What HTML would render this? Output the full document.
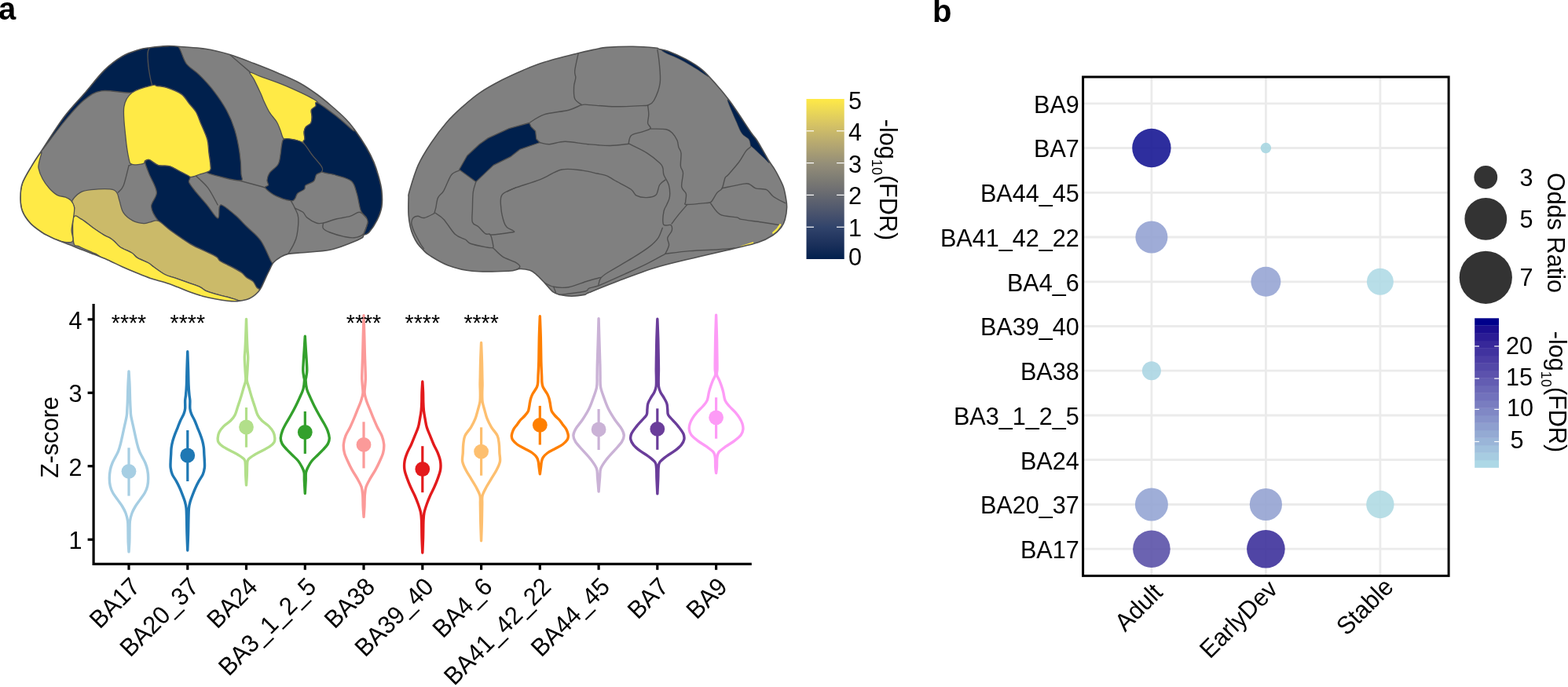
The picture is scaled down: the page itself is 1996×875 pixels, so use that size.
<!DOCTYPE html><html><head><meta charset="utf-8"><title>Figure</title><style>html,body{margin:0;padding:0;background:#fff;}svg{display:block;}</style></head><body>
<svg width="1996" height="875" viewBox="0 0 1996 875" font-family="'Liberation Sans', Arial, Helvetica, sans-serif">
<rect width="1996" height="875" fill="#fff"/>
<text x="-2" y="25" font-size="40" font-weight="bold">a</text>
<text x="1187" y="28" font-size="40" font-weight="bold">b</text>
<clipPath id="clat"><path d="M26.00,252.00 C26.00,246.00 26.17,239.95 28.60,233.10 C31.03,226.25 36.55,217.77 40.60,210.90 C44.65,204.03 46.05,202.27 52.90,191.90 C59.75,181.53 72.45,161.03 81.70,148.70 C90.95,136.37 99.83,127.83 108.40,117.90 C116.97,107.97 125.22,96.82 133.10,89.10 C140.98,81.38 148.50,75.88 155.70,71.60 C162.90,67.32 170.47,65.22 176.30,63.40 C182.13,61.58 184.53,61.50 190.70,60.70 C196.87,59.90 207.30,58.83 213.30,58.60 C219.30,58.37 218.63,58.68 226.70,59.30 C234.77,59.92 250.73,60.60 261.70,62.30 C272.67,64.00 282.22,66.42 292.50,69.50 C302.78,72.58 313.12,76.85 323.40,80.80 C333.68,84.75 344.60,89.08 354.20,93.20 C363.80,97.32 372.82,101.03 381.00,105.50 C389.18,109.97 396.47,115.08 403.30,120.00 C410.13,124.92 415.88,129.75 422.00,135.00 C428.12,140.25 435.15,146.55 440.00,151.50 C444.85,156.45 446.68,158.63 451.10,164.70 C455.52,170.77 462.38,180.95 466.50,187.90 C470.62,194.85 473.22,200.23 475.80,206.40 C478.38,212.57 480.32,218.83 482.00,224.90 C483.68,230.97 485.25,236.38 485.90,242.80 C486.55,249.22 486.88,257.12 485.90,263.40 C484.92,269.68 482.70,275.07 480.00,280.50 C477.30,285.93 472.57,292.85 469.70,296.00 C466.83,299.15 464.23,298.27 462.80,299.40 C461.37,300.53 463.95,301.08 461.10,302.80 C458.25,304.52 452.55,307.12 445.70,309.70 C438.85,312.28 430.00,316.30 420.00,318.30 C410.00,320.30 394.57,320.85 385.70,321.70 C376.83,322.55 371.65,322.40 366.80,323.40 C361.95,324.40 359.73,325.85 356.60,327.70 C353.47,329.55 350.18,331.95 348.00,334.50 C345.82,337.05 345.17,339.68 343.50,343.00 C341.83,346.32 339.85,350.50 338.00,354.40 C336.15,358.30 334.00,363.47 332.40,366.40 C330.80,369.33 330.13,370.13 328.40,372.00 C326.67,373.87 324.40,376.00 322.00,377.60 C319.60,379.20 317.33,380.60 314.00,381.60 C310.67,382.60 306.00,383.33 302.00,383.60 C298.00,383.87 294.67,383.67 290.00,383.20 C285.33,382.73 279.33,381.80 274.00,380.80 C268.67,379.80 263.33,378.67 258.00,377.20 C252.67,375.73 247.33,373.93 242.00,372.00 C236.67,370.07 231.33,367.63 226.00,365.60 C220.67,363.57 215.75,361.65 210.00,359.80 C204.25,357.95 197.63,356.58 191.50,354.50 C185.37,352.42 179.28,349.80 173.20,347.30 C167.12,344.80 161.03,342.22 155.00,339.50 C148.97,336.78 143.32,333.77 137.00,331.00 C130.68,328.23 122.32,324.97 117.10,322.90 C111.88,320.83 109.50,320.08 105.70,318.60 C101.90,317.12 98.10,315.53 94.30,314.00 C90.50,312.47 86.72,310.88 82.90,309.40 C79.08,307.92 75.22,306.72 71.40,305.10 C67.58,303.48 62.85,301.12 60.00,299.70 C57.15,298.28 57.82,299.12 54.30,296.60 C50.78,294.08 43.18,289.18 38.90,284.60 C34.62,280.02 30.75,274.53 28.60,269.10 C26.45,263.67 26.00,258.00 26.00,252.00 Z"/></clipPath>
<path d="M26.00,252.00 C26.00,246.00 26.17,239.95 28.60,233.10 C31.03,226.25 36.55,217.77 40.60,210.90 C44.65,204.03 46.05,202.27 52.90,191.90 C59.75,181.53 72.45,161.03 81.70,148.70 C90.95,136.37 99.83,127.83 108.40,117.90 C116.97,107.97 125.22,96.82 133.10,89.10 C140.98,81.38 148.50,75.88 155.70,71.60 C162.90,67.32 170.47,65.22 176.30,63.40 C182.13,61.58 184.53,61.50 190.70,60.70 C196.87,59.90 207.30,58.83 213.30,58.60 C219.30,58.37 218.63,58.68 226.70,59.30 C234.77,59.92 250.73,60.60 261.70,62.30 C272.67,64.00 282.22,66.42 292.50,69.50 C302.78,72.58 313.12,76.85 323.40,80.80 C333.68,84.75 344.60,89.08 354.20,93.20 C363.80,97.32 372.82,101.03 381.00,105.50 C389.18,109.97 396.47,115.08 403.30,120.00 C410.13,124.92 415.88,129.75 422.00,135.00 C428.12,140.25 435.15,146.55 440.00,151.50 C444.85,156.45 446.68,158.63 451.10,164.70 C455.52,170.77 462.38,180.95 466.50,187.90 C470.62,194.85 473.22,200.23 475.80,206.40 C478.38,212.57 480.32,218.83 482.00,224.90 C483.68,230.97 485.25,236.38 485.90,242.80 C486.55,249.22 486.88,257.12 485.90,263.40 C484.92,269.68 482.70,275.07 480.00,280.50 C477.30,285.93 472.57,292.85 469.70,296.00 C466.83,299.15 464.23,298.27 462.80,299.40 C461.37,300.53 463.95,301.08 461.10,302.80 C458.25,304.52 452.55,307.12 445.70,309.70 C438.85,312.28 430.00,316.30 420.00,318.30 C410.00,320.30 394.57,320.85 385.70,321.70 C376.83,322.55 371.65,322.40 366.80,323.40 C361.95,324.40 359.73,325.85 356.60,327.70 C353.47,329.55 350.18,331.95 348.00,334.50 C345.82,337.05 345.17,339.68 343.50,343.00 C341.83,346.32 339.85,350.50 338.00,354.40 C336.15,358.30 334.00,363.47 332.40,366.40 C330.80,369.33 330.13,370.13 328.40,372.00 C326.67,373.87 324.40,376.00 322.00,377.60 C319.60,379.20 317.33,380.60 314.00,381.60 C310.67,382.60 306.00,383.33 302.00,383.60 C298.00,383.87 294.67,383.67 290.00,383.20 C285.33,382.73 279.33,381.80 274.00,380.80 C268.67,379.80 263.33,378.67 258.00,377.20 C252.67,375.73 247.33,373.93 242.00,372.00 C236.67,370.07 231.33,367.63 226.00,365.60 C220.67,363.57 215.75,361.65 210.00,359.80 C204.25,357.95 197.63,356.58 191.50,354.50 C185.37,352.42 179.28,349.80 173.20,347.30 C167.12,344.80 161.03,342.22 155.00,339.50 C148.97,336.78 143.32,333.77 137.00,331.00 C130.68,328.23 122.32,324.97 117.10,322.90 C111.88,320.83 109.50,320.08 105.70,318.60 C101.90,317.12 98.10,315.53 94.30,314.00 C90.50,312.47 86.72,310.88 82.90,309.40 C79.08,307.92 75.22,306.72 71.40,305.10 C67.58,303.48 62.85,301.12 60.00,299.70 C57.15,298.28 57.82,299.12 54.30,296.60 C50.78,294.08 43.18,289.18 38.90,284.60 C34.62,280.02 30.75,274.53 28.60,269.10 C26.45,263.67 26.00,258.00 26.00,252.00 Z" fill="#808080"/>
<g clip-path="url(#clat)">
<path d="M52.90,191.90 C52.90,190.87 72.45,161.03 81.70,148.70 C90.95,136.37 99.83,127.83 108.40,117.90 C116.97,107.97 125.22,96.82 133.10,89.10 C140.98,81.38 148.50,75.88 155.70,71.60 C162.90,67.32 170.47,65.22 176.30,63.40 C182.13,61.58 188.65,57.80 190.70,60.70 C192.75,63.60 188.08,72.82 188.60,80.80 C189.12,88.78 197.22,102.42 193.80,108.60 C190.38,114.78 178.90,116.70 168.10,117.90 C157.30,119.10 139.28,114.10 129.00,115.80 C118.72,117.50 114.28,121.58 106.40,128.10 C98.52,134.62 90.62,144.27 81.70,154.90 C72.78,165.53 52.90,192.93 52.90,191.90 Z" fill="#00204D" stroke="#505050" stroke-width="1.3" stroke-linejoin="round"/>
<path d="M190.70,60.70 C194.82,57.00 207.30,58.83 213.30,58.60 C219.30,58.37 222.75,55.60 226.70,59.30 C230.65,63.00 232.53,74.82 237.00,80.80 C241.47,86.78 247.67,89.37 253.50,95.20 C259.33,101.03 266.18,108.25 272.00,115.80 C277.82,123.35 283.95,132.27 288.40,140.50 C292.85,148.73 295.95,156.28 298.70,165.20 C301.45,174.12 303.53,184.75 304.90,194.00 C306.27,203.25 306.95,214.70 306.90,220.70 C306.85,226.70 311.47,229.97 304.60,230.00 C297.73,230.03 271.98,223.00 265.70,220.90 C259.42,218.80 266.53,219.15 266.90,217.40 C267.27,215.65 268.08,214.30 267.90,210.40 C267.72,206.50 266.48,199.48 265.80,194.00 C265.12,188.52 265.52,183.68 263.80,177.50 C262.08,171.32 257.90,162.73 255.50,156.90 C253.10,151.07 251.80,146.60 249.40,142.50 C247.00,138.40 244.20,136.07 241.10,132.30 C238.00,128.53 235.60,123.33 230.80,119.90 C226.00,116.47 217.43,113.42 212.30,111.70 C207.17,109.98 203.08,110.12 200.00,109.60 C196.92,109.08 195.70,113.40 193.80,108.60 C191.90,103.80 189.12,88.78 188.60,80.80 C188.08,72.82 186.58,64.40 190.70,60.70 Z" fill="#00204D" stroke="#505050" stroke-width="1.3" stroke-linejoin="round"/>
<path d="M193.80,108.60 C199.12,107.22 196.92,109.08 200.00,109.60 C203.08,110.12 207.17,109.98 212.30,111.70 C217.43,113.42 226.00,116.47 230.80,119.90 C235.60,123.33 238.00,128.53 241.10,132.30 C244.20,136.07 247.00,138.40 249.40,142.50 C251.80,146.60 253.10,151.07 255.50,156.90 C257.90,162.73 262.08,171.32 263.80,177.50 C265.52,183.68 265.12,188.52 265.80,194.00 C266.48,199.48 267.72,206.50 267.90,210.40 C268.08,214.30 269.17,215.47 266.90,217.40 C264.63,219.33 258.50,220.67 254.30,222.00 C250.10,223.33 245.52,225.78 241.70,225.40 C237.88,225.02 235.78,221.98 231.40,219.70 C227.02,217.42 220.35,213.22 215.40,211.70 C210.45,210.18 205.88,211.93 201.70,210.60 C197.52,209.27 193.15,204.65 190.30,203.70 C187.45,202.75 185.90,204.12 184.60,204.90 C183.30,205.68 185.25,207.65 182.50,208.40 C179.75,209.15 171.18,210.43 168.10,209.40 C165.02,208.37 165.38,208.20 164.00,202.20 C162.62,196.20 160.83,184.37 159.80,173.40 C158.77,162.43 156.42,145.65 157.80,136.40 C159.18,127.15 162.10,122.53 168.10,117.90 C174.10,113.27 188.48,109.98 193.80,108.60 Z" fill="#FFEA46" stroke="#505050" stroke-width="1.3" stroke-linejoin="round"/>
<path d="M184.80,207.50 C184.22,204.55 185.58,204.93 186.50,204.30 C187.42,203.67 187.77,202.65 190.30,203.70 C192.83,204.75 197.52,209.27 201.70,210.60 C205.88,211.93 210.45,210.18 215.40,211.70 C220.35,213.22 227.02,217.42 231.40,219.70 C235.78,221.98 240.17,223.30 241.70,225.40 C243.23,227.50 239.27,229.05 240.60,232.30 C241.93,235.55 245.90,240.13 249.70,244.90 C253.50,249.67 258.83,255.38 263.40,260.90 C267.97,266.42 274.43,277.63 277.10,278.00 C279.77,278.37 278.25,265.77 279.40,263.10 C280.55,260.43 280.57,260.08 284.00,262.00 C287.43,263.92 295.05,270.22 300.00,274.60 C304.95,278.98 308.37,282.97 313.70,288.30 C319.03,293.63 326.67,298.98 332.00,306.60 C337.33,314.22 342.70,328.77 345.70,334.00 C348.70,339.23 350.28,334.00 350.00,338.00 C349.72,342.00 346.33,352.92 344.00,358.00 C341.67,363.08 338.87,367.08 336.00,368.50 C333.13,369.92 329.13,368.18 326.80,366.50 C324.47,364.82 324.13,360.55 322.00,358.40 C319.87,356.25 316.40,355.47 314.00,353.60 C311.60,351.73 310.27,349.20 307.60,347.20 C304.93,345.20 300.93,343.20 298.00,341.60 C295.07,340.00 293.07,339.20 290.00,337.60 C286.93,336.00 282.00,333.73 279.60,332.00 C277.20,330.27 278.67,329.20 275.60,327.20 C272.53,325.20 266.65,322.68 261.20,320.00 C255.75,317.32 250.15,315.43 242.90,311.10 C235.65,306.77 224.57,298.95 217.70,294.00 C210.83,289.05 205.88,286.55 201.70,281.40 C197.52,276.25 192.98,269.18 192.60,263.10 C192.22,257.02 199.83,251.75 199.40,244.90 C198.97,238.05 192.43,228.23 190.00,222.00 C187.57,215.77 185.38,210.45 184.80,207.50 Z" fill="#00204D" stroke="#505050" stroke-width="1.3" stroke-linejoin="round"/>
<path d="M92.00,255.40 C93.28,252.25 98.30,247.38 102.30,245.10 C106.30,242.82 109.72,242.40 116.00,241.70 C122.28,241.00 134.57,240.33 140.00,240.90 C145.43,241.47 146.60,242.68 148.60,245.10 C150.60,247.52 150.58,251.10 152.00,255.40 C153.42,259.70 154.25,266.62 157.10,270.90 C159.95,275.18 164.80,278.82 169.10,281.10 C173.40,283.38 179.18,284.30 182.90,284.60 C186.62,284.90 188.27,283.43 191.40,282.90 C194.53,282.37 197.32,279.55 201.70,281.40 C206.08,283.25 210.83,289.05 217.70,294.00 C224.57,298.95 235.65,306.77 242.90,311.10 C250.15,315.43 255.75,317.32 261.20,320.00 C266.65,322.68 272.53,325.20 275.60,327.20 C278.67,329.20 277.20,330.27 279.60,332.00 C282.00,333.73 286.93,336.00 290.00,337.60 C293.07,339.20 295.07,340.00 298.00,341.60 C300.93,343.20 304.93,345.20 307.60,347.20 C310.27,349.20 311.60,351.73 314.00,353.60 C316.40,355.47 319.87,356.33 322.00,358.40 C324.13,360.47 325.13,363.90 326.80,366.00 C328.47,368.10 332.13,368.50 332.00,371.00 C331.87,373.50 329.00,378.50 326.00,381.00 C323.00,383.50 317.33,385.58 314.00,386.00 C310.67,386.42 310.00,384.77 306.00,383.50 C302.00,382.23 295.33,379.92 290.00,378.40 C284.67,376.88 278.67,375.73 274.00,374.40 C269.33,373.07 265.20,371.87 262.00,370.40 C258.80,368.93 258.13,367.20 254.80,365.60 C251.47,364.00 246.80,362.53 242.00,360.80 C237.20,359.07 229.67,356.48 226.00,355.20 C222.33,353.92 222.70,354.05 220.00,353.10 C217.30,352.15 213.78,351.63 209.80,349.50 C205.82,347.37 199.62,342.75 196.10,340.30 C192.58,337.85 192.22,336.78 188.70,334.80 C185.18,332.82 178.50,330.53 175.00,328.40 C171.50,326.27 171.35,324.28 167.70,322.00 C164.05,319.72 156.77,317.13 153.10,314.70 C149.43,312.27 147.88,309.33 145.70,307.40 C143.52,305.47 142.28,304.48 140.00,303.10 C137.72,301.72 135.62,301.28 132.00,299.10 C128.38,296.92 122.97,293.28 118.30,290.00 C113.63,286.72 108.10,281.58 104.00,279.40 C99.90,277.22 95.27,279.47 93.70,276.90 C92.13,274.33 94.88,267.58 94.60,264.00 C94.32,260.42 90.72,258.55 92.00,255.40 Z" fill="#CBBA69" stroke="#505050" stroke-width="1.3" stroke-linejoin="round"/>
<path d="M93.70,276.90 C95.42,271.98 99.90,277.22 104.00,279.40 C108.10,281.58 113.63,286.72 118.30,290.00 C122.97,293.28 128.38,296.92 132.00,299.10 C135.62,301.28 137.72,301.72 140.00,303.10 C142.28,304.48 143.52,305.47 145.70,307.40 C147.88,309.33 149.43,312.27 153.10,314.70 C156.77,317.13 164.05,319.72 167.70,322.00 C171.35,324.28 171.50,326.27 175.00,328.40 C178.50,330.53 185.18,332.82 188.70,334.80 C192.22,336.78 192.58,337.85 196.10,340.30 C199.62,342.75 205.82,347.37 209.80,349.50 C213.78,351.63 217.30,352.15 220.00,353.10 C222.70,354.05 222.33,353.92 226.00,355.20 C229.67,356.48 237.20,359.07 242.00,360.80 C246.80,362.53 251.47,364.00 254.80,365.60 C258.13,367.20 258.80,368.93 262.00,370.40 C265.20,371.87 269.33,373.07 274.00,374.40 C278.67,375.73 284.67,376.88 290.00,378.40 C295.33,379.92 302.50,381.90 306.00,383.50 C309.50,385.10 313.67,387.33 311.00,388.00 C308.33,388.67 296.17,388.00 290.00,387.50 C283.83,387.00 279.33,386.08 274.00,385.00 C268.67,383.92 263.33,382.50 258.00,381.00 C252.67,379.50 247.33,377.92 242.00,376.00 C236.67,374.08 231.33,371.58 226.00,369.50 C220.67,367.42 215.75,365.42 210.00,363.50 C204.25,361.58 197.63,360.08 191.50,358.00 C185.37,355.92 179.28,353.50 173.20,351.00 C167.12,348.50 161.03,345.83 155.00,343.00 C148.97,340.17 142.17,337.08 137.00,334.00 C131.83,330.92 127.32,326.60 124.00,324.50 C120.68,322.40 120.92,323.15 117.10,321.40 C113.28,319.65 105.00,316.08 101.10,314.00 C97.20,311.92 94.93,315.08 93.70,308.90 C92.47,302.72 91.98,281.82 93.70,276.90 Z" fill="#FFEA46" stroke="#505050" stroke-width="1.3" stroke-linejoin="round"/>
<path d="M52.60,193.70 C54.17,192.83 50.58,202.27 50.00,205.70 C49.42,209.13 48.38,210.58 49.10,214.30 C49.82,218.02 52.00,223.72 54.30,228.00 C56.60,232.28 59.77,236.57 62.90,240.00 C66.03,243.43 69.68,246.75 73.10,248.60 C76.52,250.45 80.53,249.97 83.40,251.10 C86.27,252.23 88.43,253.25 90.30,255.40 C92.17,257.55 94.03,260.57 94.60,264.00 C95.17,267.43 94.28,271.15 93.70,276.00 C93.12,280.85 91.38,287.82 91.10,293.10 C90.82,298.38 95.00,305.55 92.00,307.70 C89.00,309.85 79.38,307.85 73.10,306.00 C66.82,304.15 60.00,300.17 54.30,296.60 C48.60,293.03 43.18,289.18 38.90,284.60 C34.62,280.02 30.75,274.53 28.60,269.10 C26.45,263.67 26.00,258.00 26.00,252.00 C26.00,246.00 26.17,239.95 28.60,233.10 C31.03,226.25 36.60,217.47 40.60,210.90 C44.60,204.33 51.03,194.57 52.60,193.70 Z" fill="#FFEA46" stroke="#505050" stroke-width="1.3" stroke-linejoin="round"/>
<path d="M318.20,92.20 C319.57,91.52 323.88,94.40 331.60,97.30 C339.32,100.20 352.77,104.48 364.50,109.60 C376.23,114.72 395.78,123.70 402.00,128.00 C408.22,132.30 402.73,133.40 401.80,135.40 C400.87,137.40 397.18,137.68 396.40,140.00 C395.62,142.32 397.23,146.47 397.10,149.30 C396.97,152.13 396.88,154.95 395.60,157.00 C394.32,159.05 390.82,159.80 389.40,161.60 C387.98,163.40 387.35,165.22 387.10,167.80 C386.85,170.38 388.03,174.78 387.90,177.10 C387.77,179.42 388.62,181.58 386.30,181.70 C383.98,181.82 378.12,178.57 374.00,177.80 C369.88,177.03 364.43,179.02 361.60,177.10 C358.77,175.18 358.53,169.90 357.00,166.30 C355.47,162.70 354.72,159.37 352.40,155.50 C350.08,151.63 345.93,147.73 343.10,143.10 C340.27,138.47 337.20,131.55 335.40,127.70 C333.60,123.85 334.30,124.38 332.30,120.00 C330.30,115.62 325.75,106.03 323.40,101.40 C321.05,96.77 316.83,92.88 318.20,92.20 Z" fill="#FFEA46" stroke="#505050" stroke-width="1.3" stroke-linejoin="round"/>
<path d="M404.00,130.80 C408.37,132.87 420.40,141.88 428.00,147.80 C435.60,153.72 445.75,163.48 449.60,166.30 C453.45,169.12 448.28,161.10 451.10,164.70 C453.92,168.30 462.38,180.95 466.50,187.90 C470.62,194.85 473.22,200.23 475.80,206.40 C478.38,212.57 480.32,218.83 482.00,224.90 C483.68,230.97 485.25,236.38 485.90,242.80 C486.55,249.22 486.88,257.12 485.90,263.40 C484.92,269.68 482.70,275.07 480.00,280.50 C477.30,285.93 472.57,292.85 469.70,296.00 C466.83,299.15 463.08,301.40 462.80,299.40 C462.52,297.40 467.43,287.72 468.00,284.00 C468.57,280.28 467.63,279.67 466.20,277.10 C464.77,274.53 461.40,273.73 459.40,268.60 C457.40,263.47 456.20,252.60 454.20,246.30 C452.20,240.00 451.77,234.63 447.40,230.80 C443.03,226.97 434.28,225.28 428.00,223.30 C421.72,221.32 412.78,220.70 409.70,218.90 C406.62,217.10 411.60,216.13 409.50,212.50 C407.40,208.87 400.97,202.23 397.10,197.10 C393.23,191.97 387.83,185.03 386.30,181.70 C384.77,178.37 387.77,179.42 387.90,177.10 C388.03,174.78 386.85,170.38 387.10,167.80 C387.35,165.22 387.98,163.40 389.40,161.60 C390.82,159.80 394.32,159.05 395.60,157.00 C396.88,154.95 396.97,152.13 397.10,149.30 C397.23,146.47 395.62,142.32 396.40,140.00 C397.18,137.68 400.53,136.93 401.80,135.40 C403.07,133.87 399.63,128.73 404.00,130.80 Z" fill="#00204D" stroke="#505050" stroke-width="1.3" stroke-linejoin="round"/>
<path d="M361.60,177.10 C364.17,175.93 369.88,176.90 374.00,177.80 C378.12,178.70 382.45,179.28 386.30,182.50 C390.15,185.72 393.23,192.10 397.10,197.10 C400.97,202.10 407.43,208.90 409.50,212.50 C411.57,216.10 410.62,217.07 409.50,218.70 C408.38,220.33 404.48,220.28 402.80,222.30 C401.12,224.32 401.68,228.52 399.40,230.80 C397.12,233.08 391.10,234.28 389.10,236.00 C387.10,237.72 389.12,239.38 387.40,241.10 C385.68,242.82 380.80,244.30 378.80,246.30 C376.80,248.30 376.82,251.53 375.40,253.10 C373.98,254.67 374.30,256.27 370.30,255.70 C366.30,255.13 356.83,252.42 351.40,249.70 C345.97,246.98 339.33,241.73 337.70,239.40 C336.07,237.07 341.22,237.35 341.60,235.70 C341.98,234.05 339.75,232.07 340.00,229.50 C340.25,226.93 340.78,223.63 343.10,220.30 C345.42,216.97 351.58,213.37 353.90,209.50 C356.22,205.63 356.22,201.22 357.00,197.10 C357.78,192.98 357.83,188.13 358.60,184.80 C359.37,181.47 359.03,178.27 361.60,177.10 Z" fill="#00204D" stroke="#505050" stroke-width="1.3" stroke-linejoin="round"/>
<path d="M164.00,210.90 C162.85,215.18 159.38,230.90 157.10,236.60 C154.82,242.30 151.43,243.68 150.30,245.10" fill="none" stroke="#505050" stroke-width="1.4" stroke-linejoin="round" stroke-linecap="round"/>
<path d="M168.10,209.40 C167.60,209.60 165.78,210.35 165.10,210.60 C164.42,210.85 164.18,210.85 164.00,210.90" fill="none" stroke="#505050" stroke-width="1.4" stroke-linejoin="round" stroke-linecap="round"/>
<path d="M292.50,69.50 C296.28,72.77 310.92,85.32 315.20,89.10 C319.48,92.88 317.70,91.68 318.20,92.20" fill="none" stroke="#505050" stroke-width="1.4" stroke-linejoin="round" stroke-linecap="round"/>
<path d="M304.60,230.00 C309.55,231.33 328.78,236.43 334.30,238.00 C339.82,239.57 337.13,239.17 337.70,239.40" fill="none" stroke="#505050" stroke-width="1.4" stroke-linejoin="round" stroke-linecap="round"/>
<path d="M249.70,224.30 C252.18,226.77 260.03,233.00 264.60,239.10 C269.17,245.20 275.02,257.27 277.10,260.90" fill="none" stroke="#505050" stroke-width="1.4" stroke-linejoin="round" stroke-linecap="round"/>
<path d="M370.30,255.70 C371.15,257.27 373.83,261.53 375.40,265.10 C376.97,268.67 379.27,271.38 379.70,277.10 C380.13,282.82 379.00,293.68 378.00,299.40 C377.00,305.12 375.57,307.40 373.70,311.40 C371.83,315.40 367.95,321.40 366.80,323.40" fill="none" stroke="#505050" stroke-width="1.4" stroke-linejoin="round" stroke-linecap="round"/>
<path d="M375.40,265.10 C377.12,265.97 383.13,268.30 385.70,270.30 C388.27,272.30 387.95,274.82 390.80,277.10 C393.65,279.38 399.37,282.85 402.80,284.00 C406.23,285.15 407.12,284.87 411.40,284.00 C415.68,283.13 422.78,280.23 428.50,278.80 C434.22,277.37 440.83,276.82 445.70,275.40 C450.57,273.98 454.28,270.02 457.70,270.30 C461.12,270.58 464.78,275.97 466.20,277.10" fill="none" stroke="#505050" stroke-width="1.4" stroke-linejoin="round" stroke-linecap="round"/>
<path d="M411.40,284.50 C411.40,285.55 409.97,288.88 411.40,290.80 C412.83,292.72 415.72,294.28 420.00,296.00 C424.28,297.72 431.97,299.97 437.10,301.10 C442.23,302.23 446.52,303.37 450.80,302.80 C455.08,302.23 459.93,300.83 462.80,297.70 C465.67,294.57 467.13,286.28 468.00,284.00" fill="none" stroke="#505050" stroke-width="1.4" stroke-linejoin="round" stroke-linecap="round"/>
</g>
<path d="M26.00,252.00 C26.00,246.00 26.17,239.95 28.60,233.10 C31.03,226.25 36.55,217.77 40.60,210.90 C44.65,204.03 46.05,202.27 52.90,191.90 C59.75,181.53 72.45,161.03 81.70,148.70 C90.95,136.37 99.83,127.83 108.40,117.90 C116.97,107.97 125.22,96.82 133.10,89.10 C140.98,81.38 148.50,75.88 155.70,71.60 C162.90,67.32 170.47,65.22 176.30,63.40 C182.13,61.58 184.53,61.50 190.70,60.70 C196.87,59.90 207.30,58.83 213.30,58.60 C219.30,58.37 218.63,58.68 226.70,59.30 C234.77,59.92 250.73,60.60 261.70,62.30 C272.67,64.00 282.22,66.42 292.50,69.50 C302.78,72.58 313.12,76.85 323.40,80.80 C333.68,84.75 344.60,89.08 354.20,93.20 C363.80,97.32 372.82,101.03 381.00,105.50 C389.18,109.97 396.47,115.08 403.30,120.00 C410.13,124.92 415.88,129.75 422.00,135.00 C428.12,140.25 435.15,146.55 440.00,151.50 C444.85,156.45 446.68,158.63 451.10,164.70 C455.52,170.77 462.38,180.95 466.50,187.90 C470.62,194.85 473.22,200.23 475.80,206.40 C478.38,212.57 480.32,218.83 482.00,224.90 C483.68,230.97 485.25,236.38 485.90,242.80 C486.55,249.22 486.88,257.12 485.90,263.40 C484.92,269.68 482.70,275.07 480.00,280.50 C477.30,285.93 472.57,292.85 469.70,296.00 C466.83,299.15 464.23,298.27 462.80,299.40 C461.37,300.53 463.95,301.08 461.10,302.80 C458.25,304.52 452.55,307.12 445.70,309.70 C438.85,312.28 430.00,316.30 420.00,318.30 C410.00,320.30 394.57,320.85 385.70,321.70 C376.83,322.55 371.65,322.40 366.80,323.40 C361.95,324.40 359.73,325.85 356.60,327.70 C353.47,329.55 350.18,331.95 348.00,334.50 C345.82,337.05 345.17,339.68 343.50,343.00 C341.83,346.32 339.85,350.50 338.00,354.40 C336.15,358.30 334.00,363.47 332.40,366.40 C330.80,369.33 330.13,370.13 328.40,372.00 C326.67,373.87 324.40,376.00 322.00,377.60 C319.60,379.20 317.33,380.60 314.00,381.60 C310.67,382.60 306.00,383.33 302.00,383.60 C298.00,383.87 294.67,383.67 290.00,383.20 C285.33,382.73 279.33,381.80 274.00,380.80 C268.67,379.80 263.33,378.67 258.00,377.20 C252.67,375.73 247.33,373.93 242.00,372.00 C236.67,370.07 231.33,367.63 226.00,365.60 C220.67,363.57 215.75,361.65 210.00,359.80 C204.25,357.95 197.63,356.58 191.50,354.50 C185.37,352.42 179.28,349.80 173.20,347.30 C167.12,344.80 161.03,342.22 155.00,339.50 C148.97,336.78 143.32,333.77 137.00,331.00 C130.68,328.23 122.32,324.97 117.10,322.90 C111.88,320.83 109.50,320.08 105.70,318.60 C101.90,317.12 98.10,315.53 94.30,314.00 C90.50,312.47 86.72,310.88 82.90,309.40 C79.08,307.92 75.22,306.72 71.40,305.10 C67.58,303.48 62.85,301.12 60.00,299.70 C57.15,298.28 57.82,299.12 54.30,296.60 C50.78,294.08 43.18,289.18 38.90,284.60 C34.62,280.02 30.75,274.53 28.60,269.10 C26.45,263.67 26.00,258.00 26.00,252.00 Z" fill="none" stroke="#505050" stroke-width="1.6"/>
<clipPath id="cmed"><path d="M520.10,273.90 C519.73,267.72 519.93,256.90 520.10,251.90 C520.27,246.90 519.07,250.82 521.10,243.90 C523.13,236.98 527.73,220.63 532.30,210.40 C536.87,200.17 542.47,191.57 548.50,182.50 C554.53,173.43 561.83,163.72 568.50,156.00 C575.17,148.28 581.50,142.48 588.50,136.20 C595.50,129.92 602.05,124.03 610.50,118.30 C618.95,112.57 629.95,106.62 639.20,101.80 C648.45,96.98 657.08,93.15 666.00,89.40 C674.92,85.65 681.20,82.87 692.70,79.30 C704.20,75.73 724.60,70.65 735.00,68.00 C745.40,65.35 748.88,64.67 755.10,63.40 C761.32,62.13 763.87,61.08 772.30,60.40 C780.73,59.72 795.30,59.20 805.70,59.30 C816.10,59.40 829.15,60.47 834.70,61.00 C840.25,61.53 836.35,61.80 839.00,62.50 C841.65,63.20 844.90,63.05 850.60,65.20 C856.30,67.35 866.00,71.47 873.20,75.40 C880.40,79.33 887.28,83.32 893.80,88.80 C900.32,94.28 906.65,101.93 912.30,108.30 C917.95,114.67 923.18,121.08 927.70,127.00 C932.22,132.92 934.53,136.63 939.40,143.80 C944.27,150.97 952.82,164.10 956.90,170.00 C960.98,175.90 960.33,173.53 963.90,179.20 C967.47,184.87 974.63,197.98 978.30,204.00 C981.97,210.02 983.85,212.00 985.90,215.30 C987.95,218.60 988.72,220.03 990.60,223.80 C992.48,227.57 995.58,233.25 997.20,237.90 C998.82,242.55 999.57,247.30 1000.30,251.70 C1001.03,256.10 1001.77,259.67 1001.60,264.30 C1001.43,268.93 1000.48,275.30 999.30,279.50 C998.12,283.70 997.05,286.17 994.50,289.50 C991.95,292.83 988.92,296.28 984.00,299.50 C979.08,302.72 973.53,305.90 965.00,308.80 C956.47,311.70 947.30,313.42 932.80,316.90 C918.30,320.38 894.75,325.60 878.00,329.70 C861.25,333.80 847.53,336.78 832.30,341.50 C817.07,346.22 800.32,352.82 786.60,358.00 C772.88,363.18 757.10,369.70 750.00,372.60 C742.90,375.50 747.73,374.63 744.00,375.40 C740.27,376.17 732.77,377.20 727.60,377.20 C722.43,377.20 716.97,376.32 713.00,375.40 C709.03,374.48 707.17,374.30 703.80,371.70 C700.43,369.10 696.45,363.60 692.80,359.80 C689.15,356.00 684.93,351.48 681.90,348.90 C678.87,346.32 677.95,345.37 674.60,344.30 C671.25,343.23 666.38,342.35 661.80,342.50 C657.22,342.65 657.17,344.75 647.10,345.20 C637.03,345.65 614.20,346.42 601.40,345.20 C588.60,343.98 579.43,341.25 570.30,337.90 C561.17,334.55 551.85,328.35 546.60,325.10 C541.35,321.85 541.32,320.88 538.80,318.40 C536.28,315.92 533.63,313.25 531.50,310.20 C529.37,307.15 527.53,303.63 526.00,300.10 C524.47,296.57 523.28,293.37 522.30,289.00 C521.32,284.63 520.47,280.08 520.10,273.90 Z"/></clipPath>
<path d="M520.10,273.90 C519.73,267.72 519.93,256.90 520.10,251.90 C520.27,246.90 519.07,250.82 521.10,243.90 C523.13,236.98 527.73,220.63 532.30,210.40 C536.87,200.17 542.47,191.57 548.50,182.50 C554.53,173.43 561.83,163.72 568.50,156.00 C575.17,148.28 581.50,142.48 588.50,136.20 C595.50,129.92 602.05,124.03 610.50,118.30 C618.95,112.57 629.95,106.62 639.20,101.80 C648.45,96.98 657.08,93.15 666.00,89.40 C674.92,85.65 681.20,82.87 692.70,79.30 C704.20,75.73 724.60,70.65 735.00,68.00 C745.40,65.35 748.88,64.67 755.10,63.40 C761.32,62.13 763.87,61.08 772.30,60.40 C780.73,59.72 795.30,59.20 805.70,59.30 C816.10,59.40 829.15,60.47 834.70,61.00 C840.25,61.53 836.35,61.80 839.00,62.50 C841.65,63.20 844.90,63.05 850.60,65.20 C856.30,67.35 866.00,71.47 873.20,75.40 C880.40,79.33 887.28,83.32 893.80,88.80 C900.32,94.28 906.65,101.93 912.30,108.30 C917.95,114.67 923.18,121.08 927.70,127.00 C932.22,132.92 934.53,136.63 939.40,143.80 C944.27,150.97 952.82,164.10 956.90,170.00 C960.98,175.90 960.33,173.53 963.90,179.20 C967.47,184.87 974.63,197.98 978.30,204.00 C981.97,210.02 983.85,212.00 985.90,215.30 C987.95,218.60 988.72,220.03 990.60,223.80 C992.48,227.57 995.58,233.25 997.20,237.90 C998.82,242.55 999.57,247.30 1000.30,251.70 C1001.03,256.10 1001.77,259.67 1001.60,264.30 C1001.43,268.93 1000.48,275.30 999.30,279.50 C998.12,283.70 997.05,286.17 994.50,289.50 C991.95,292.83 988.92,296.28 984.00,299.50 C979.08,302.72 973.53,305.90 965.00,308.80 C956.47,311.70 947.30,313.42 932.80,316.90 C918.30,320.38 894.75,325.60 878.00,329.70 C861.25,333.80 847.53,336.78 832.30,341.50 C817.07,346.22 800.32,352.82 786.60,358.00 C772.88,363.18 757.10,369.70 750.00,372.60 C742.90,375.50 747.73,374.63 744.00,375.40 C740.27,376.17 732.77,377.20 727.60,377.20 C722.43,377.20 716.97,376.32 713.00,375.40 C709.03,374.48 707.17,374.30 703.80,371.70 C700.43,369.10 696.45,363.60 692.80,359.80 C689.15,356.00 684.93,351.48 681.90,348.90 C678.87,346.32 677.95,345.37 674.60,344.30 C671.25,343.23 666.38,342.35 661.80,342.50 C657.22,342.65 657.17,344.75 647.10,345.20 C637.03,345.65 614.20,346.42 601.40,345.20 C588.60,343.98 579.43,341.25 570.30,337.90 C561.17,334.55 551.85,328.35 546.60,325.10 C541.35,321.85 541.32,320.88 538.80,318.40 C536.28,315.92 533.63,313.25 531.50,310.20 C529.37,307.15 527.53,303.63 526.00,300.10 C524.47,296.57 523.28,293.37 522.30,289.00 C521.32,284.63 520.47,280.08 520.10,273.90 Z" fill="#808080"/>
<g clip-path="url(#cmed)">
<path d="M584.6,216.0 L594.7,198.2 L610.3,183.7 L621.4,175.9 L648.1,163.6 L673.8,156.5 L676.0,161.4 L681.6,167.0 L682.7,177.0 L687.1,181.5 L661.5,190.4 L650.4,199.3 L628.1,210.4 L605.8,231.6 Z" fill="#00204D" stroke="#505050" stroke-width="1.3" stroke-linejoin="round"/>
<path d="M838.00,59.50 C839.00,58.78 847.00,60.83 852.00,62.50 C857.00,64.17 862.67,66.75 868.00,69.50 C873.33,72.25 879.33,75.67 884.00,79.00 C888.67,82.33 893.00,86.42 896.00,89.50 C899.00,92.58 901.92,96.67 902.00,97.50 C902.08,98.33 899.08,96.12 896.50,94.50 C893.92,92.88 890.42,90.27 886.50,87.80 C882.58,85.33 877.25,82.08 873.00,79.70 C868.75,77.32 865.50,75.65 861.00,73.50 C856.50,71.35 849.83,69.13 846.00,66.80 C842.17,64.47 837.00,60.22 838.00,59.50 Z" fill="#00204D" stroke="#505050" stroke-width="0.6" stroke-linejoin="round"/>
<path d="M926.00,126.90 C926.37,125.05 934.25,136.42 939.40,143.60 C944.55,150.78 952.82,164.07 956.90,170.00 C960.98,175.93 960.23,173.12 963.90,179.20 C967.57,185.28 977.42,202.78 978.90,206.50 C980.38,210.22 976.42,204.75 972.80,201.50 C969.18,198.25 960.05,189.53 957.20,187.00 C954.35,184.47 956.37,187.88 955.70,186.30 C955.03,184.72 955.08,180.22 953.20,177.50 C951.32,174.78 947.07,173.80 944.40,170.00 C941.73,166.20 940.27,161.88 937.20,154.70 C934.13,147.52 925.63,128.75 926.00,126.90 Z" fill="#00204D" stroke="#505050" stroke-width="0.6" stroke-linejoin="round"/>
<path d="M736.20,67.80 C735.45,71.52 732.27,84.90 731.70,90.10 C731.13,95.30 732.98,95.65 732.80,99.00 C732.62,102.35 730.78,105.73 730.60,110.20 C730.42,114.67 730.03,121.90 731.70,125.80 C733.37,129.70 739.12,132.30 740.60,133.60" fill="none" stroke="#505050" stroke-width="1.4" stroke-linejoin="round" stroke-linecap="round"/>
<path d="M674.90,155.80 C677.87,154.13 684.53,148.40 692.70,145.80 C700.87,143.20 715.92,142.23 723.90,140.20 C731.88,138.17 736.25,134.70 740.60,133.60 C744.95,132.50 742.87,133.23 750.00,133.60 C757.13,133.97 770.97,135.70 783.40,135.80 C795.83,135.90 817.73,134.47 824.60,134.20" fill="none" stroke="#505050" stroke-width="1.4" stroke-linejoin="round" stroke-linecap="round"/>
<path d="M836.90,63.40 C837.27,66.00 838.55,71.95 839.10,79.00 C839.65,86.05 841.32,97.53 840.20,105.70 C839.08,113.87 835.00,123.25 832.40,128.00 C829.80,132.75 825.90,133.17 824.60,134.20" fill="none" stroke="#505050" stroke-width="1.4" stroke-linejoin="round" stroke-linecap="round"/>
<path d="M824.60,134.20 C824.80,136.13 825.80,142.00 825.80,145.80 C825.80,149.60 824.23,154.03 824.60,157.00 C824.97,159.97 829.30,161.75 828.00,163.60 C826.70,165.45 820.88,166.62 816.80,168.10 C812.72,169.58 806.28,169.98 803.50,172.50 C800.72,175.02 800.67,181.42 800.10,183.20" fill="none" stroke="#505050" stroke-width="1.4" stroke-linejoin="round" stroke-linecap="round"/>
<path d="M687.10,181.50 C689.15,181.87 694.02,183.90 699.40,183.70 C704.78,183.50 711.23,180.30 719.40,180.30 C727.57,180.30 738.85,182.83 748.40,183.70 C757.95,184.57 768.08,185.58 776.70,185.50 C785.32,185.42 796.20,183.58 800.10,183.20" fill="none" stroke="#505050" stroke-width="1.4" stroke-linejoin="round" stroke-linecap="round"/>
<path d="M800.80,183.20 C804.58,185.13 816.97,190.72 823.50,194.80 C830.03,198.88 836.62,204.50 840.00,207.70 C843.38,210.90 842.97,211.48 843.80,214.00 C844.63,216.52 843.75,219.23 845.00,222.80 C846.25,226.37 850.05,230.82 851.30,235.40 C852.55,239.98 852.92,246.12 852.50,250.30 C852.08,254.48 850.05,257.38 848.80,260.50 C847.55,263.62 845.77,264.93 845.00,269.00 C844.23,273.07 843.58,281.90 844.20,284.90 C844.82,287.90 847.03,286.70 848.70,287.00 C850.37,287.30 853.13,285.53 854.20,286.70 C855.27,287.87 855.85,291.27 855.10,294.00 C854.35,296.73 850.30,300.05 849.70,303.10 C849.10,306.15 851.97,308.93 851.50,312.30 C851.03,315.67 847.67,321.47 846.90,323.30" fill="none" stroke="#505050" stroke-width="1.4" stroke-linejoin="round" stroke-linecap="round"/>
<path d="M645.90,243.90 C647.63,243.10 649.23,241.70 656.30,239.10 C663.37,236.50 678.52,232.15 688.30,228.30 C698.08,224.45 706.10,217.87 715.00,216.00 C723.90,214.13 734.20,216.27 741.70,217.10 C749.20,217.93 754.90,219.88 760.00,221.00 C765.10,222.12 768.48,222.30 772.30,223.80 C776.12,225.30 777.78,227.13 782.90,230.00 C788.02,232.87 798.43,237.80 803.00,241.00 C807.57,244.20 806.95,247.43 810.30,249.20 C813.65,250.97 818.98,251.75 823.10,251.60 C827.22,251.45 832.25,250.98 835.00,248.30 C837.75,245.62 837.62,238.70 839.60,235.50 C841.58,232.30 845.68,230.17 846.90,229.10" fill="none" stroke="#505050" stroke-width="1.4" stroke-linejoin="round" stroke-linecap="round"/>
<path d="M656.30,239.10 C653.40,240.63 641.95,243.72 638.90,248.30 C635.85,252.88 637.55,260.82 638.00,266.60 C638.45,272.38 640.38,279.20 641.60,283.00 C642.82,286.80 643.32,287.57 645.30,289.40 C647.28,291.23 652.28,292.93 653.50,294.00 C654.72,295.07 655.80,295.10 652.60,295.80 C649.40,296.50 639.02,297.65 634.30,298.20 C629.58,298.75 625.97,298.95 624.30,299.10" fill="none" stroke="#505050" stroke-width="1.4" stroke-linejoin="round" stroke-linecap="round"/>
<path d="M828.00,164.10 C831.33,164.20 843.28,163.72 848.00,164.70 C852.72,165.68 853.97,167.65 856.30,170.00 C858.63,172.35 860.73,175.87 862.00,178.80 C863.27,181.73 863.07,184.88 863.90,187.60 C864.73,190.32 866.58,191.12 867.00,195.10 C867.42,199.08 865.98,207.30 866.40,211.50 C866.82,215.70 869.28,215.90 869.50,220.30 C869.72,224.70 867.07,233.50 867.70,237.90 C868.33,242.30 872.47,243.55 873.30,246.70 C874.13,249.85 872.48,254.50 872.70,256.80 C872.92,259.10 869.37,260.30 874.60,260.50 C879.83,260.70 899.18,258.42 904.10,258.00" fill="none" stroke="#505050" stroke-width="1.4" stroke-linejoin="round" stroke-linecap="round"/>
<path d="M955.70,187.00 C954.65,187.93 951.92,189.35 949.40,192.60 C946.88,195.85 944.37,201.47 940.60,206.50 C936.83,211.53 929.73,219.45 926.80,222.80 C923.87,226.15 924.27,223.77 923.00,226.60 C921.73,229.43 920.88,236.67 919.20,239.80 C917.52,242.93 915.00,242.78 912.90,245.40 C910.80,248.02 908.07,253.40 906.60,255.50 C905.13,257.60 904.52,257.58 904.10,258.00" fill="none" stroke="#505050" stroke-width="1.4" stroke-linejoin="round" stroke-linecap="round"/>
<path d="M919.20,239.80 C923.82,238.85 941.03,234.93 946.90,234.10 C952.77,233.27 951.88,233.85 954.40,234.80 C956.92,235.75 958.43,238.65 962.00,239.80 C965.57,240.95 972.03,239.92 975.80,241.70 C979.57,243.48 980.62,247.68 984.60,250.50 C988.58,253.32 997.18,257.25 999.70,258.60" fill="none" stroke="#505050" stroke-width="1.4" stroke-linejoin="round" stroke-linecap="round"/>
<path d="M904.80,259.30 C906.78,261.60 911.15,270.17 916.70,273.10 C922.25,276.03 933.58,275.85 938.10,276.90 C942.62,277.95 938.58,278.38 943.80,279.40 C949.02,280.42 961.17,281.78 969.40,283.00 C977.63,284.22 989.23,286.08 993.20,286.70" fill="none" stroke="#505050" stroke-width="1.4" stroke-linejoin="round" stroke-linecap="round"/>
<path d="M874.30,261.10 C872.48,263.23 866.60,269.93 863.40,273.90 C860.20,277.87 856.48,283.07 855.10,284.90" fill="none" stroke="#505050" stroke-width="1.4" stroke-linejoin="round" stroke-linecap="round"/>
<path d="M846.90,323.30 C852.08,322.68 866.72,320.52 878.00,319.60 C889.28,318.68 905.15,318.40 914.60,317.80 C924.05,317.20 931.35,316.30 934.70,316.00" fill="none" stroke="#505050" stroke-width="1.4" stroke-linejoin="round" stroke-linecap="round"/>
<path d="M846.90,323.30 C842.93,325.43 831.63,331.83 823.10,336.10 C814.57,340.37 805.75,344.33 795.70,348.90 C785.65,353.47 770.42,360.47 762.80,363.50 C755.18,366.53 753.13,365.82 750.00,367.10 C746.87,368.38 750.17,369.82 744.00,371.20 C737.83,372.58 718.17,374.70 713.00,375.40" fill="none" stroke="#505050" stroke-width="1.4" stroke-linejoin="round" stroke-linecap="round"/>
<path d="M843.30,290.30 C842.38,292.43 840.55,299.13 837.80,303.10 C835.05,307.07 832.28,309.83 826.80,314.10 C821.32,318.37 813.73,323.22 804.90,328.70 C796.07,334.18 780.52,342.73 773.80,347.00 C767.08,351.27 766.58,351.70 764.60,354.30 C762.62,356.90 762.35,361.22 761.90,362.60" fill="none" stroke="#505050" stroke-width="1.4" stroke-linejoin="round" stroke-linecap="round"/>
<path d="M692.80,359.80 C694.78,360.72 699.52,364.32 704.70,365.30 C709.88,366.28 716.73,366.92 723.90,365.70 C731.07,364.48 740.92,360.05 747.70,358.00 C754.48,355.95 761.78,354.17 764.60,353.40" fill="none" stroke="#505050" stroke-width="1.4" stroke-linejoin="round" stroke-linecap="round"/>
<path d="M704.70,365.30 C705.17,366.52 707.03,371.38 707.50,372.60" fill="none" stroke="#505050" stroke-width="1.4" stroke-linejoin="round" stroke-linecap="round"/>
<path d="M605.80,231.60 C605.22,233.77 603.03,238.77 602.30,244.60 C601.57,250.43 601.55,260.20 601.40,266.60 C601.25,273.00 600.18,279.35 601.40,283.00 C602.62,286.65 605.95,286.05 608.70,288.50 C611.45,290.95 615.30,295.93 617.90,297.70 C620.50,299.47 622.63,296.52 624.30,299.10 C625.97,301.68 627.45,310.45 627.90,313.20 C628.35,315.95 627.15,315.20 627.00,315.60" fill="none" stroke="#505050" stroke-width="1.4" stroke-linejoin="round" stroke-linecap="round"/>
<path d="M584.60,217.10 C582.93,218.03 577.88,218.42 574.60,222.70 C571.32,226.98 567.75,237.93 564.90,242.80 C562.05,247.67 559.18,248.25 557.50,251.90 C555.82,255.55 555.55,261.50 554.80,264.70 C554.05,267.90 553.30,270.03 553.00,271.10" fill="none" stroke="#505050" stroke-width="1.4" stroke-linejoin="round" stroke-linecap="round"/>
<path d="M553.00,271.70 C550.87,272.67 543.72,276.90 540.20,277.50 C536.68,278.10 534.27,275.30 531.90,275.30 C529.53,275.30 527.35,276.22 526.00,277.50 C524.65,278.78 524.03,281.25 523.80,283.00 C523.57,284.75 524.02,285.92 524.60,288.00 C525.18,290.08 526.10,292.80 527.30,295.50 C528.50,298.20 530.38,301.53 531.80,304.20 C533.22,306.87 534.52,309.40 535.80,311.50 C537.08,313.60 538.88,315.92 539.50,316.80" fill="none" stroke="#505050" stroke-width="1.4" stroke-linejoin="round" stroke-linecap="round"/>
<path d="M554.20,271.30 C555.98,272.65 560.68,274.85 564.90,279.40 C569.12,283.95 574.93,294.33 579.50,298.60 C584.07,302.87 588.95,303.02 592.30,305.00 C595.65,306.98 595.03,308.83 599.60,310.50 C604.17,312.17 615.13,314.15 619.70,315.00 C624.27,315.85 625.78,315.50 627.00,315.60" fill="none" stroke="#505050" stroke-width="1.4" stroke-linejoin="round" stroke-linecap="round"/>
<path d="M627.90,315.90 C629.88,317.73 635.07,323.85 639.80,326.90 C644.53,329.95 652.63,332.07 656.30,334.20 C659.97,336.33 661.80,338.02 661.80,339.70 C661.80,341.38 657.22,343.53 656.30,344.30" fill="none" stroke="#505050" stroke-width="1.4" stroke-linejoin="round" stroke-linecap="round"/>
<path d="M984.3,296.5 Q990,292.5 993.2,286.3" fill="none" stroke="#FFEA46" stroke-width="2.4" stroke-linecap="round"/>
<path d="M943.5,314 L958.5,309.2" stroke="#FFEA46" stroke-width="1.8" stroke-linecap="round"/>
</g>
<path d="M520.10,273.90 C519.73,267.72 519.93,256.90 520.10,251.90 C520.27,246.90 519.07,250.82 521.10,243.90 C523.13,236.98 527.73,220.63 532.30,210.40 C536.87,200.17 542.47,191.57 548.50,182.50 C554.53,173.43 561.83,163.72 568.50,156.00 C575.17,148.28 581.50,142.48 588.50,136.20 C595.50,129.92 602.05,124.03 610.50,118.30 C618.95,112.57 629.95,106.62 639.20,101.80 C648.45,96.98 657.08,93.15 666.00,89.40 C674.92,85.65 681.20,82.87 692.70,79.30 C704.20,75.73 724.60,70.65 735.00,68.00 C745.40,65.35 748.88,64.67 755.10,63.40 C761.32,62.13 763.87,61.08 772.30,60.40 C780.73,59.72 795.30,59.20 805.70,59.30 C816.10,59.40 829.15,60.47 834.70,61.00 C840.25,61.53 836.35,61.80 839.00,62.50 C841.65,63.20 844.90,63.05 850.60,65.20 C856.30,67.35 866.00,71.47 873.20,75.40 C880.40,79.33 887.28,83.32 893.80,88.80 C900.32,94.28 906.65,101.93 912.30,108.30 C917.95,114.67 923.18,121.08 927.70,127.00 C932.22,132.92 934.53,136.63 939.40,143.80 C944.27,150.97 952.82,164.10 956.90,170.00 C960.98,175.90 960.33,173.53 963.90,179.20 C967.47,184.87 974.63,197.98 978.30,204.00 C981.97,210.02 983.85,212.00 985.90,215.30 C987.95,218.60 988.72,220.03 990.60,223.80 C992.48,227.57 995.58,233.25 997.20,237.90 C998.82,242.55 999.57,247.30 1000.30,251.70 C1001.03,256.10 1001.77,259.67 1001.60,264.30 C1001.43,268.93 1000.48,275.30 999.30,279.50 C998.12,283.70 997.05,286.17 994.50,289.50 C991.95,292.83 988.92,296.28 984.00,299.50 C979.08,302.72 973.53,305.90 965.00,308.80 C956.47,311.70 947.30,313.42 932.80,316.90 C918.30,320.38 894.75,325.60 878.00,329.70 C861.25,333.80 847.53,336.78 832.30,341.50 C817.07,346.22 800.32,352.82 786.60,358.00 C772.88,363.18 757.10,369.70 750.00,372.60 C742.90,375.50 747.73,374.63 744.00,375.40 C740.27,376.17 732.77,377.20 727.60,377.20 C722.43,377.20 716.97,376.32 713.00,375.40 C709.03,374.48 707.17,374.30 703.80,371.70 C700.43,369.10 696.45,363.60 692.80,359.80 C689.15,356.00 684.93,351.48 681.90,348.90 C678.87,346.32 677.95,345.37 674.60,344.30 C671.25,343.23 666.38,342.35 661.80,342.50 C657.22,342.65 657.17,344.75 647.10,345.20 C637.03,345.65 614.20,346.42 601.40,345.20 C588.60,343.98 579.43,341.25 570.30,337.90 C561.17,334.55 551.85,328.35 546.60,325.10 C541.35,321.85 541.32,320.88 538.80,318.40 C536.28,315.92 533.63,313.25 531.50,310.20 C529.37,307.15 527.53,303.63 526.00,300.10 C524.47,296.57 523.28,293.37 522.30,289.00 C521.32,284.63 520.47,280.08 520.10,273.90 Z" fill="none" stroke="#505050" stroke-width="1.6"/>
<rect x="1026.5" y="126" width="48.2" height="204" fill="url(#gc)"/>
<text transform="translate(1080.0,338.3) scale(1,1.04)" font-size="30.6">0</text>
<line x1="1026.5" y1="289.2" x2="1036" y2="289.2" stroke="#fff" stroke-width="1.2"/>
<line x1="1065" y1="289.2" x2="1074.7" y2="289.2" stroke="#fff" stroke-width="1.2"/>
<text transform="translate(1080.0,301.1) scale(1,1.04)" font-size="30.6">1</text>
<line x1="1026.5" y1="248.4" x2="1036" y2="248.4" stroke="#fff" stroke-width="1.2"/>
<line x1="1065" y1="248.4" x2="1074.7" y2="248.4" stroke="#fff" stroke-width="1.2"/>
<text transform="translate(1080.0,260.3) scale(1,1.04)" font-size="30.6">2</text>
<line x1="1026.5" y1="207.6" x2="1036" y2="207.6" stroke="#fff" stroke-width="1.2"/>
<line x1="1065" y1="207.6" x2="1074.7" y2="207.6" stroke="#fff" stroke-width="1.2"/>
<text transform="translate(1080.0,219.5) scale(1,1.04)" font-size="30.6">3</text>
<line x1="1026.5" y1="166.8" x2="1036" y2="166.8" stroke="#fff" stroke-width="1.2"/>
<line x1="1065" y1="166.8" x2="1074.7" y2="166.8" stroke="#fff" stroke-width="1.2"/>
<text transform="translate(1080.0,178.7) scale(1,1.04)" font-size="30.6">4</text>
<text transform="translate(1080.0,139.3) scale(1,1.04)" font-size="30.6">5</text>
<text transform="translate(1120.0,229.0) rotate(90) scale(1,1.04)" font-size="30.6" text-anchor="middle">-log<tspan font-size="18" dy="9.5">10</tspan><tspan dy="-9.5">(FDR)</tspan></text>
<g id="violins">
<path d="M164.00,472.90 C164.17,475.75 164.73,483.82 165.00,490.00 C165.27,496.18 165.40,504.67 165.60,510.00 C165.80,515.33 166.00,518.67 166.20,522.00 C166.40,525.33 166.08,525.80 166.80,530.00 C167.52,534.20 169.25,541.48 170.50,547.20 C171.75,552.92 173.15,559.73 174.30,564.30 C175.45,568.87 176.32,571.73 177.40,574.60 C178.48,577.47 179.52,578.93 180.80,581.50 C182.08,584.07 183.95,587.15 185.10,590.00 C186.25,592.85 187.10,595.45 187.70,598.60 C188.30,601.75 188.70,605.47 188.70,608.90 C188.70,612.33 188.43,616.05 187.70,619.20 C186.97,622.35 185.87,624.93 184.30,627.80 C182.73,630.67 180.30,633.53 178.30,636.40 C176.30,639.27 174.02,642.15 172.30,645.00 C170.58,647.85 169.15,650.37 168.00,653.50 C166.85,656.63 165.90,660.08 165.40,663.80 C164.90,667.52 165.10,671.43 165.00,675.80 C164.90,680.17 164.97,685.48 164.80,690.00 C164.63,694.52 164.13,700.75 164.00,702.90 L164.00,702.90 C163.87,700.75 163.37,694.52 163.20,690.00 C163.03,685.48 163.10,680.17 163.00,675.80 C162.90,671.43 163.10,667.52 162.60,663.80 C162.10,660.08 161.15,656.63 160.00,653.50 C158.85,650.37 157.42,647.85 155.70,645.00 C153.98,642.15 151.70,639.27 149.70,636.40 C147.70,633.53 145.27,630.67 143.70,627.80 C142.13,624.93 141.03,622.35 140.30,619.20 C139.57,616.05 139.30,612.33 139.30,608.90 C139.30,605.47 139.70,601.75 140.30,598.60 C140.90,595.45 141.75,592.85 142.90,590.00 C144.05,587.15 145.92,584.07 147.20,581.50 C148.48,578.93 149.52,577.47 150.60,574.60 C151.68,571.73 152.55,568.87 153.70,564.30 C154.85,559.73 156.25,552.92 157.50,547.20 C158.75,541.48 160.48,534.20 161.20,530.00 C161.92,525.80 161.60,525.33 161.80,522.00 C162.00,518.67 162.20,515.33 162.40,510.00 C162.60,504.67 162.73,496.18 163.00,490.00 C163.27,483.82 163.83,475.75 164.00,472.90 Z" fill="none" stroke="#A6CEE3" stroke-width="3.4" stroke-linejoin="round"/>
<line x1="164.0" y1="570.3" x2="164.0" y2="631.6" stroke="#A6CEE3" stroke-width="3.2"/>
<circle cx="164.0" cy="600.3" r="9.4" fill="#A6CEE3"/>
<path d="M238.76,447.80 C238.89,451.50 239.34,462.97 239.56,470.00 C239.78,477.03 239.83,484.50 240.06,490.00 C240.29,495.50 240.66,499.67 240.96,503.00 C241.26,506.33 241.71,507.12 241.86,510.00 C242.01,512.88 241.58,517.43 241.86,520.30 C242.14,523.17 242.56,524.63 243.56,527.20 C244.56,529.77 246.58,532.85 247.86,535.70 C249.14,538.55 250.11,541.43 251.26,544.30 C252.41,547.17 253.69,550.03 254.76,552.90 C255.83,555.77 256.89,558.65 257.66,561.50 C258.43,564.35 258.99,567.15 259.36,570.00 C259.73,572.85 259.69,575.73 259.86,578.60 C260.03,581.47 260.28,584.33 260.36,587.20 C260.44,590.07 260.73,592.93 260.36,595.80 C259.99,598.67 259.38,601.55 258.16,604.40 C256.94,607.25 254.63,610.05 253.06,612.90 C251.49,615.75 250.06,618.63 248.76,621.50 C247.46,624.37 246.36,627.23 245.26,630.10 C244.16,632.97 242.96,635.85 242.16,638.70 C241.36,641.55 240.83,643.65 240.46,647.20 C240.09,650.75 240.11,654.53 239.96,660.00 C239.81,665.47 239.76,673.17 239.56,680.00 C239.36,686.83 238.89,697.50 238.76,701.00 L238.76,701.00 C238.63,697.50 238.16,686.83 237.96,680.00 C237.76,673.17 237.71,665.47 237.56,660.00 C237.41,654.53 237.43,650.75 237.06,647.20 C236.69,643.65 236.16,641.55 235.36,638.70 C234.56,635.85 233.36,632.97 232.26,630.10 C231.16,627.23 230.06,624.37 228.76,621.50 C227.46,618.63 226.03,615.75 224.46,612.90 C222.89,610.05 220.58,607.25 219.36,604.40 C218.14,601.55 217.53,598.67 217.16,595.80 C216.79,592.93 217.08,590.07 217.16,587.20 C217.24,584.33 217.49,581.47 217.66,578.60 C217.83,575.73 217.79,572.85 218.16,570.00 C218.53,567.15 219.09,564.35 219.86,561.50 C220.63,558.65 221.69,555.77 222.76,552.90 C223.83,550.03 225.11,547.17 226.26,544.30 C227.41,541.43 228.38,538.55 229.66,535.70 C230.94,532.85 232.96,529.77 233.96,527.20 C234.96,524.63 235.38,523.17 235.66,520.30 C235.94,517.43 235.51,512.88 235.66,510.00 C235.81,507.12 236.26,506.33 236.56,503.00 C236.86,499.67 237.23,495.50 237.46,490.00 C237.69,484.50 237.74,477.03 237.96,470.00 C238.18,462.97 238.63,451.50 238.76,447.80 Z" fill="none" stroke="#1F78B4" stroke-width="3.4" stroke-linejoin="round"/>
<line x1="238.8" y1="548.0" x2="238.8" y2="613.0" stroke="#1F78B4" stroke-width="3.2"/>
<circle cx="238.8" cy="580.0" r="9.4" fill="#1F78B4"/>
<path d="M313.52,406.40 C313.65,410.33 314.07,423.57 314.32,430.00 C314.57,436.43 314.79,440.83 315.02,445.00 C315.25,449.17 315.67,451.67 315.72,455.00 C315.77,458.33 315.49,461.67 315.32,465.00 C315.15,468.33 314.89,471.73 314.72,475.00 C314.55,478.27 313.95,481.47 314.32,484.60 C314.69,487.73 315.87,490.13 316.92,493.80 C317.97,497.47 319.40,502.65 320.62,506.60 C321.84,510.55 323.00,513.85 324.22,517.50 C325.44,521.15 326.39,525.45 327.92,528.50 C329.45,531.55 330.99,533.37 333.42,535.80 C335.85,538.23 340.09,540.65 342.52,543.10 C344.95,545.55 346.80,548.05 348.02,550.50 C349.24,552.95 349.67,555.67 349.82,557.80 C349.97,559.93 349.99,561.48 348.92,563.30 C347.85,565.12 346.00,566.88 343.42,568.70 C340.84,570.52 336.77,572.37 333.42,574.20 C330.07,576.03 326.22,577.87 323.32,579.70 C320.42,581.53 317.45,583.37 316.02,585.20 C314.59,587.03 315.00,587.40 314.72,590.70 C314.44,594.00 314.52,600.47 314.32,605.00 C314.12,609.53 313.65,615.75 313.52,617.90 L313.52,617.90 C313.39,615.75 312.92,609.53 312.72,605.00 C312.52,600.47 312.60,594.00 312.32,590.70 C312.04,587.40 312.45,587.03 311.02,585.20 C309.59,583.37 306.62,581.53 303.72,579.70 C300.82,577.87 296.97,576.03 293.62,574.20 C290.27,572.37 286.20,570.52 283.62,568.70 C281.04,566.88 279.19,565.12 278.12,563.30 C277.05,561.48 277.07,559.93 277.22,557.80 C277.37,555.67 277.80,552.95 279.02,550.50 C280.24,548.05 282.09,545.55 284.52,543.10 C286.95,540.65 291.19,538.23 293.62,535.80 C296.05,533.37 297.59,531.55 299.12,528.50 C300.65,525.45 301.60,521.15 302.82,517.50 C304.04,513.85 305.20,510.55 306.42,506.60 C307.64,502.65 309.07,497.47 310.12,493.80 C311.17,490.13 312.35,487.73 312.72,484.60 C313.09,481.47 312.49,478.27 312.32,475.00 C312.15,471.73 311.89,468.33 311.72,465.00 C311.55,461.67 311.27,458.33 311.32,455.00 C311.37,451.67 311.79,449.17 312.02,445.00 C312.25,440.83 312.47,436.43 312.72,430.00 C312.97,423.57 313.39,410.33 313.52,406.40 Z" fill="none" stroke="#B2DF8A" stroke-width="3.4" stroke-linejoin="round"/>
<line x1="313.5" y1="519.0" x2="313.5" y2="569.7" stroke="#B2DF8A" stroke-width="3.2"/>
<circle cx="313.5" cy="544.0" r="9.4" fill="#B2DF8A"/>
<path d="M388.28,428.30 C388.45,431.08 388.95,439.72 389.28,445.00 C389.61,450.28 390.03,455.50 390.28,460.00 C390.53,464.50 390.86,468.67 390.78,472.00 C390.70,475.33 390.06,477.90 389.78,480.00 C389.50,482.10 388.95,482.00 389.08,484.60 C389.21,487.20 389.56,491.93 390.58,495.60 C391.60,499.27 393.56,502.95 395.18,506.60 C396.80,510.25 398.45,513.85 400.28,517.50 C402.11,521.15 404.13,524.83 406.18,528.50 C408.23,532.17 410.76,536.15 412.58,539.50 C414.40,542.85 415.96,545.55 417.08,548.60 C418.20,551.65 419.21,555.05 419.28,557.80 C419.35,560.55 418.76,562.67 417.48,565.10 C416.20,567.53 413.78,569.97 411.58,572.40 C409.38,574.83 406.71,577.27 404.28,579.70 C401.85,582.13 398.95,584.57 396.98,587.00 C395.01,589.43 393.73,591.87 392.48,594.30 C391.23,596.73 390.03,598.65 389.48,601.60 C388.93,604.55 389.38,607.52 389.18,612.00 C388.98,616.48 388.43,625.75 388.28,628.50 L388.28,628.50 C388.13,625.75 387.58,616.48 387.38,612.00 C387.18,607.52 387.63,604.55 387.08,601.60 C386.53,598.65 385.33,596.73 384.08,594.30 C382.83,591.87 381.55,589.43 379.58,587.00 C377.61,584.57 374.71,582.13 372.28,579.70 C369.85,577.27 367.18,574.83 364.98,572.40 C362.78,569.97 360.36,567.53 359.08,565.10 C357.80,562.67 357.21,560.55 357.28,557.80 C357.35,555.05 358.36,551.65 359.48,548.60 C360.60,545.55 362.16,542.85 363.98,539.50 C365.80,536.15 368.33,532.17 370.38,528.50 C372.43,524.83 374.45,521.15 376.28,517.50 C378.11,513.85 379.76,510.25 381.38,506.60 C383.00,502.95 384.96,499.27 385.98,495.60 C387.00,491.93 387.35,487.20 387.48,484.60 C387.61,482.00 387.06,482.10 386.78,480.00 C386.50,477.90 385.86,475.33 385.78,472.00 C385.70,468.67 386.03,464.50 386.28,460.00 C386.53,455.50 386.95,450.28 387.28,445.00 C387.61,439.72 388.11,431.08 388.28,428.30 Z" fill="none" stroke="#33A02C" stroke-width="3.4" stroke-linejoin="round"/>
<line x1="388.3" y1="524.0" x2="388.3" y2="577.9" stroke="#33A02C" stroke-width="3.2"/>
<circle cx="388.3" cy="550.5" r="9.4" fill="#33A02C"/>
<path d="M463.04,401.80 C463.17,406.50 463.62,421.97 463.84,430.00 C464.06,438.03 464.14,443.33 464.34,450.00 C464.54,456.67 464.87,464.67 465.04,470.00 C465.21,475.33 465.37,478.67 465.34,482.00 C465.31,485.33 465.04,486.85 464.84,490.00 C464.64,493.15 463.79,497.28 464.14,500.90 C464.49,504.52 465.74,508.08 466.94,511.70 C468.14,515.32 469.89,518.98 471.34,522.60 C472.79,526.22 474.12,529.78 475.64,533.40 C477.16,537.02 478.69,540.68 480.44,544.30 C482.19,547.92 484.76,551.48 486.14,555.10 C487.52,558.72 488.49,562.37 488.74,566.00 C488.99,569.63 488.56,573.28 487.64,576.90 C486.72,580.52 484.87,584.08 483.24,587.70 C481.61,591.32 479.82,594.98 477.84,598.60 C475.86,602.22 473.32,605.78 471.34,609.40 C469.36,613.02 467.11,616.67 465.94,620.30 C464.77,623.93 464.67,627.08 464.34,631.20 C464.01,635.32 464.16,640.48 463.94,645.00 C463.72,649.52 463.19,656.08 463.04,658.30 L463.04,658.30 C462.89,656.08 462.36,649.52 462.14,645.00 C461.92,640.48 462.07,635.32 461.74,631.20 C461.41,627.08 461.31,623.93 460.14,620.30 C458.97,616.67 456.72,613.02 454.74,609.40 C452.76,605.78 450.22,602.22 448.24,598.60 C446.26,594.98 444.47,591.32 442.84,587.70 C441.21,584.08 439.36,580.52 438.44,576.90 C437.52,573.28 437.09,569.63 437.34,566.00 C437.59,562.37 438.56,558.72 439.94,555.10 C441.32,551.48 443.89,547.92 445.64,544.30 C447.39,540.68 448.92,537.02 450.44,533.40 C451.96,529.78 453.29,526.22 454.74,522.60 C456.19,518.98 457.94,515.32 459.14,511.70 C460.34,508.08 461.59,504.52 461.94,500.90 C462.29,497.28 461.44,493.15 461.24,490.00 C461.04,486.85 460.77,485.33 460.74,482.00 C460.71,478.67 460.87,475.33 461.04,470.00 C461.21,464.67 461.54,456.67 461.74,450.00 C461.94,443.33 462.02,438.03 462.24,430.00 C462.46,421.97 462.91,406.50 463.04,401.80 Z" fill="none" stroke="#FB9A99" stroke-width="3.4" stroke-linejoin="round"/>
<line x1="463.0" y1="537.3" x2="463.0" y2="596.4" stroke="#FB9A99" stroke-width="3.2"/>
<circle cx="463.0" cy="566.4" r="9.4" fill="#FB9A99"/>
<path d="M537.80,486.00 C537.93,488.33 538.43,495.72 538.60,500.00 C538.77,504.28 538.67,507.93 538.80,511.70 C538.93,515.47 539.02,518.98 539.40,522.60 C539.78,526.22 540.45,529.78 541.10,533.40 C541.75,537.02 542.22,540.68 543.30,544.30 C544.38,547.92 546.15,551.48 547.60,555.10 C549.05,558.72 550.38,562.37 552.00,566.00 C553.62,569.63 555.87,573.28 557.30,576.90 C558.73,580.52 560.05,584.08 560.60,587.70 C561.15,591.32 561.15,594.98 560.60,598.60 C560.05,602.22 558.58,605.78 557.30,609.40 C556.02,613.02 554.52,616.67 552.90,620.30 C551.28,623.93 549.20,627.58 547.60,631.20 C546.00,634.82 544.57,638.38 543.30,642.00 C542.03,645.62 540.72,649.28 540.00,652.90 C539.28,656.52 539.23,658.35 539.00,663.70 C538.77,669.05 538.80,678.28 538.60,685.00 C538.40,691.72 537.93,700.83 537.80,704.00 L537.80,704.00 C537.67,700.83 537.20,691.72 537.00,685.00 C536.80,678.28 536.83,669.05 536.60,663.70 C536.37,658.35 536.32,656.52 535.60,652.90 C534.88,649.28 533.57,645.62 532.30,642.00 C531.03,638.38 529.60,634.82 528.00,631.20 C526.40,627.58 524.32,623.93 522.70,620.30 C521.08,616.67 519.58,613.02 518.30,609.40 C517.02,605.78 515.55,602.22 515.00,598.60 C514.45,594.98 514.45,591.32 515.00,587.70 C515.55,584.08 516.87,580.52 518.30,576.90 C519.73,573.28 521.98,569.63 523.60,566.00 C525.22,562.37 526.55,558.72 528.00,555.10 C529.45,551.48 531.22,547.92 532.30,544.30 C533.38,540.68 533.85,537.02 534.50,533.40 C535.15,529.78 535.82,526.22 536.20,522.60 C536.58,518.98 536.67,515.47 536.80,511.70 C536.93,507.93 536.83,504.28 537.00,500.00 C537.17,495.72 537.67,488.33 537.80,486.00 Z" fill="none" stroke="#E31A1C" stroke-width="3.4" stroke-linejoin="round"/>
<line x1="537.8" y1="568.2" x2="537.8" y2="627.2" stroke="#E31A1C" stroke-width="3.2"/>
<circle cx="537.8" cy="597.5" r="9.4" fill="#E31A1C"/>
<path d="M612.56,436.50 C612.71,440.42 613.24,452.75 613.46,460.00 C613.68,467.25 613.76,475.00 613.86,480.00 C613.96,485.00 614.08,486.52 614.06,490.00 C614.04,493.48 613.74,497.28 613.76,500.90 C613.78,504.52 613.63,508.08 614.16,511.70 C614.69,515.32 615.96,518.98 616.96,522.60 C617.96,526.22 618.71,529.78 620.16,533.40 C621.61,537.02 623.48,540.68 625.66,544.30 C627.84,547.92 631.64,551.48 633.26,555.10 C634.88,558.72 634.93,562.37 635.36,566.00 C635.79,569.63 635.68,573.28 635.86,576.90 C636.04,580.52 637.08,584.08 636.46,587.70 C635.84,591.32 633.96,594.98 632.16,598.60 C630.36,602.22 627.83,605.78 625.66,609.40 C623.49,613.02 621.08,616.67 619.16,620.30 C617.24,623.93 615.06,627.58 614.16,631.20 C613.26,634.82 613.89,636.37 613.76,642.00 C613.63,647.63 613.56,657.20 613.36,665.00 C613.16,672.80 612.69,684.83 612.56,688.80 L612.56,688.80 C612.43,684.83 611.96,672.80 611.76,665.00 C611.56,657.20 611.49,647.63 611.36,642.00 C611.23,636.37 611.86,634.82 610.96,631.20 C610.06,627.58 607.88,623.93 605.96,620.30 C604.04,616.67 601.63,613.02 599.46,609.40 C597.29,605.78 594.76,602.22 592.96,598.60 C591.16,594.98 589.28,591.32 588.66,587.70 C588.04,584.08 589.08,580.52 589.26,576.90 C589.44,573.28 589.33,569.63 589.76,566.00 C590.19,562.37 590.24,558.72 591.86,555.10 C593.48,551.48 597.28,547.92 599.46,544.30 C601.64,540.68 603.51,537.02 604.96,533.40 C606.41,529.78 607.16,526.22 608.16,522.60 C609.16,518.98 610.43,515.32 610.96,511.70 C611.49,508.08 611.34,504.52 611.36,500.90 C611.38,497.28 611.08,493.48 611.06,490.00 C611.04,486.52 611.16,485.00 611.26,480.00 C611.36,475.00 611.44,467.25 611.66,460.00 C611.88,452.75 612.41,440.42 612.56,436.50 Z" fill="none" stroke="#FDBF6F" stroke-width="3.4" stroke-linejoin="round"/>
<line x1="612.6" y1="544.3" x2="612.6" y2="605.7" stroke="#FDBF6F" stroke-width="3.2"/>
<circle cx="612.6" cy="575.1" r="9.4" fill="#FDBF6F"/>
<path d="M687.32,402.80 C687.49,407.33 688.07,420.47 688.32,430.00 C688.57,439.53 688.60,451.83 688.82,460.00 C689.04,468.17 689.44,474.50 689.62,479.00 C689.80,483.50 689.65,484.67 689.92,487.00 C690.19,489.33 690.12,490.58 691.22,493.00 C692.32,495.42 695.25,499.17 696.52,501.50 C697.79,503.83 698.22,505.13 698.82,507.00 C699.42,508.87 699.75,510.82 700.12,512.70 C700.49,514.58 700.64,516.42 701.02,518.30 C701.40,520.18 701.49,522.13 702.42,524.00 C703.35,525.87 704.99,527.67 706.62,529.50 C708.25,531.33 710.60,533.13 712.22,535.00 C713.84,536.87 714.92,538.82 716.32,540.70 C717.72,542.58 719.54,544.42 720.62,546.30 C721.70,548.18 722.37,550.38 722.82,552.00 C723.27,553.62 723.45,554.62 723.32,556.00 C723.19,557.38 723.19,558.63 722.02,560.30 C720.85,561.97 718.89,564.13 716.32,566.00 C713.75,567.87 709.87,569.67 706.62,571.50 C703.37,573.33 699.39,575.13 696.82,577.00 C694.25,578.87 692.47,580.82 691.22,582.70 C689.97,584.58 689.77,586.25 689.32,588.30 C688.87,590.35 688.85,592.43 688.52,595.00 C688.19,597.57 687.52,602.25 687.32,603.70 L687.32,603.70 C687.12,602.25 686.45,597.57 686.12,595.00 C685.79,592.43 685.77,590.35 685.32,588.30 C684.87,586.25 684.67,584.58 683.42,582.70 C682.17,580.82 680.39,578.87 677.82,577.00 C675.25,575.13 671.27,573.33 668.02,571.50 C664.77,569.67 660.89,567.87 658.32,566.00 C655.75,564.13 653.79,561.97 652.62,560.30 C651.45,558.63 651.45,557.38 651.32,556.00 C651.19,554.62 651.37,553.62 651.82,552.00 C652.27,550.38 652.94,548.18 654.02,546.30 C655.10,544.42 656.92,542.58 658.32,540.70 C659.72,538.82 660.80,536.87 662.42,535.00 C664.04,533.13 666.39,531.33 668.02,529.50 C669.65,527.67 671.29,525.87 672.22,524.00 C673.15,522.13 673.24,520.18 673.62,518.30 C674.00,516.42 674.15,514.58 674.52,512.70 C674.89,510.82 675.22,508.87 675.82,507.00 C676.42,505.13 676.85,503.83 678.12,501.50 C679.39,499.17 682.32,495.42 683.42,493.00 C684.52,490.58 684.45,489.33 684.72,487.00 C684.99,484.67 684.84,483.50 685.02,479.00 C685.20,474.50 685.60,468.17 685.82,460.00 C686.04,451.83 686.07,439.53 686.32,430.00 C686.57,420.47 687.15,407.33 687.32,402.80 Z" fill="none" stroke="#FF7F00" stroke-width="3.4" stroke-linejoin="round"/>
<line x1="687.3" y1="516.9" x2="687.3" y2="566.5" stroke="#FF7F00" stroke-width="3.2"/>
<circle cx="687.3" cy="541.3" r="9.4" fill="#FF7F00"/>
<path d="M762.08,405.60 C762.25,411.33 762.78,430.10 763.08,440.00 C763.38,449.90 763.71,458.50 763.88,465.00 C764.05,471.50 763.96,474.33 764.08,479.00 C764.20,483.67 763.76,488.33 764.58,493.00 C765.40,497.67 767.31,502.33 768.98,507.00 C770.65,511.67 772.25,516.33 774.58,521.00 C776.91,525.67 780.18,530.78 782.98,535.00 C785.78,539.22 789.50,543.02 791.38,546.30 C793.26,549.58 794.28,551.92 794.28,554.70 C794.28,557.48 793.50,559.73 791.38,563.00 C789.26,566.27 784.85,570.55 781.58,574.30 C778.31,578.05 774.58,581.77 771.78,585.50 C768.98,589.23 766.15,592.95 764.78,596.70 C763.41,600.45 764.03,603.12 763.58,608.00 C763.13,612.88 762.33,623.00 762.08,626.00 L762.08,626.00 C761.83,623.00 761.03,612.88 760.58,608.00 C760.13,603.12 760.75,600.45 759.38,596.70 C758.01,592.95 755.18,589.23 752.38,585.50 C749.58,581.77 745.85,578.05 742.58,574.30 C739.31,570.55 734.90,566.27 732.78,563.00 C730.66,559.73 729.88,557.48 729.88,554.70 C729.88,551.92 730.90,549.58 732.78,546.30 C734.66,543.02 738.38,539.22 741.18,535.00 C743.98,530.78 747.25,525.67 749.58,521.00 C751.91,516.33 753.51,511.67 755.18,507.00 C756.85,502.33 758.76,497.67 759.58,493.00 C760.40,488.33 759.96,483.67 760.08,479.00 C760.20,474.33 760.11,471.50 760.28,465.00 C760.45,458.50 760.78,449.90 761.08,440.00 C761.38,430.10 761.91,411.33 762.08,405.60 Z" fill="none" stroke="#CAB2D6" stroke-width="3.4" stroke-linejoin="round"/>
<line x1="762.1" y1="521.0" x2="762.1" y2="573.0" stroke="#CAB2D6" stroke-width="3.2"/>
<circle cx="762.1" cy="546.9" r="9.4" fill="#CAB2D6"/>
<path d="M836.84,406.20 C836.99,410.17 837.52,422.70 837.74,430.00 C837.96,437.30 838.02,443.33 838.14,450.00 C838.26,456.67 838.42,464.83 838.44,470.00 C838.46,475.17 838.24,477.35 838.24,481.00 C838.24,484.65 838.04,488.85 838.44,491.90 C838.84,494.95 839.52,496.85 840.64,499.30 C841.76,501.75 843.77,504.17 845.14,506.60 C846.51,509.03 848.07,511.47 848.84,513.90 C849.61,516.33 849.44,518.77 849.74,521.20 C850.04,523.63 849.42,526.07 850.64,528.50 C851.86,530.93 854.91,533.37 857.04,535.80 C859.17,538.23 861.31,540.35 863.44,543.10 C865.57,545.85 868.61,549.55 869.84,552.30 C871.07,555.05 871.29,557.17 870.84,559.60 C870.39,562.03 869.12,564.47 867.14,566.90 C865.16,569.33 862.14,571.77 858.94,574.20 C855.74,576.63 851.14,579.05 847.94,581.50 C844.74,583.95 841.37,586.45 839.74,588.90 C838.11,591.35 838.47,592.68 838.14,596.20 C837.81,599.72 837.96,604.57 837.74,610.00 C837.52,615.43 836.99,625.67 836.84,628.80 L836.84,628.80 C836.69,625.67 836.16,615.43 835.94,610.00 C835.72,604.57 835.87,599.72 835.54,596.20 C835.21,592.68 835.57,591.35 833.94,588.90 C832.31,586.45 828.94,583.95 825.74,581.50 C822.54,579.05 817.94,576.63 814.74,574.20 C811.54,571.77 808.52,569.33 806.54,566.90 C804.56,564.47 803.29,562.03 802.84,559.60 C802.39,557.17 802.61,555.05 803.84,552.30 C805.07,549.55 808.11,545.85 810.24,543.10 C812.37,540.35 814.51,538.23 816.64,535.80 C818.77,533.37 821.82,530.93 823.04,528.50 C824.26,526.07 823.64,523.63 823.94,521.20 C824.24,518.77 824.07,516.33 824.84,513.90 C825.61,511.47 827.17,509.03 828.54,506.60 C829.91,504.17 831.92,501.75 833.04,499.30 C834.16,496.85 834.84,494.95 835.24,491.90 C835.64,488.85 835.44,484.65 835.44,481.00 C835.44,477.35 835.22,475.17 835.24,470.00 C835.26,464.83 835.42,456.67 835.54,450.00 C835.66,443.33 835.72,437.30 835.94,430.00 C836.16,422.70 836.69,410.17 836.84,406.20 Z" fill="none" stroke="#6A3D9A" stroke-width="3.4" stroke-linejoin="round"/>
<line x1="836.8" y1="520.3" x2="836.8" y2="572.8" stroke="#6A3D9A" stroke-width="3.2"/>
<circle cx="836.8" cy="546.4" r="9.4" fill="#6A3D9A"/>
<path d="M911.60,401.20 C911.75,406.00 912.28,421.03 912.50,430.00 C912.72,438.97 912.82,448.33 912.90,455.00 C912.98,461.67 913.07,466.28 913.00,470.00 C912.93,473.72 912.03,474.87 912.50,477.30 C912.97,479.73 914.80,482.17 915.80,484.60 C916.80,487.03 917.68,489.45 918.50,491.90 C919.32,494.35 919.93,496.25 920.70,499.30 C921.47,502.35 921.80,507.17 923.10,510.20 C924.40,513.23 926.38,515.05 928.50,517.50 C930.62,519.95 933.67,522.45 935.80,524.90 C937.93,527.35 939.78,529.77 941.30,532.20 C942.82,534.63 944.13,537.07 944.90,539.50 C945.67,541.93 946.18,544.37 945.90,546.80 C945.62,549.23 945.02,551.67 943.20,554.10 C941.38,556.53 938.20,558.97 935.00,561.40 C931.80,563.83 927.35,566.25 924.00,568.70 C920.65,571.15 916.77,573.65 914.90,576.10 C913.03,578.55 913.20,580.25 912.80,583.40 C912.40,586.55 912.70,591.80 912.50,595.00 C912.30,598.20 911.75,601.33 911.60,602.60 L911.60,602.60 C911.45,601.33 910.90,598.20 910.70,595.00 C910.50,591.80 910.80,586.55 910.40,583.40 C910.00,580.25 910.17,578.55 908.30,576.10 C906.43,573.65 902.55,571.15 899.20,568.70 C895.85,566.25 891.40,563.83 888.20,561.40 C885.00,558.97 881.82,556.53 880.00,554.10 C878.18,551.67 877.58,549.23 877.30,546.80 C877.02,544.37 877.53,541.93 878.30,539.50 C879.07,537.07 880.38,534.63 881.90,532.20 C883.42,529.77 885.27,527.35 887.40,524.90 C889.53,522.45 892.58,519.95 894.70,517.50 C896.82,515.05 898.80,513.23 900.10,510.20 C901.40,507.17 901.73,502.35 902.50,499.30 C903.27,496.25 903.88,494.35 904.70,491.90 C905.52,489.45 906.40,487.03 907.40,484.60 C908.40,482.17 910.23,479.73 910.70,477.30 C911.17,474.87 910.27,473.72 910.20,470.00 C910.13,466.28 910.22,461.67 910.30,455.00 C910.38,448.33 910.48,438.97 910.70,430.00 C910.92,421.03 911.45,406.00 911.60,401.20 Z" fill="none" stroke="#FD9BF6" stroke-width="3.4" stroke-linejoin="round"/>
<line x1="911.6" y1="506.2" x2="911.6" y2="558.7" stroke="#FD9BF6" stroke-width="3.2"/>
<circle cx="911.6" cy="531.8" r="9.4" fill="#FD9BF6"/>
</g>
<g stroke="#000" stroke-width="3.2" fill="none">
<path d="M119.1,387.0 V718.3 H956.8" stroke-linecap="butt"/>
<line x1="111.6" y1="687.2" x2="119.1" y2="687.2"/>
<line x1="111.6" y1="593.7" x2="119.1" y2="593.7"/>
<line x1="111.6" y1="500.3" x2="119.1" y2="500.3"/>
<line x1="111.6" y1="406.8" x2="119.1" y2="406.8"/>
<line x1="164.0" y1="718.3" x2="164.0" y2="725.8"/>
<line x1="238.8" y1="718.3" x2="238.8" y2="725.8"/>
<line x1="313.5" y1="718.3" x2="313.5" y2="725.8"/>
<line x1="388.3" y1="718.3" x2="388.3" y2="725.8"/>
<line x1="463.0" y1="718.3" x2="463.0" y2="725.8"/>
<line x1="537.8" y1="718.3" x2="537.8" y2="725.8"/>
<line x1="612.6" y1="718.3" x2="612.6" y2="725.8"/>
<line x1="687.3" y1="718.3" x2="687.3" y2="725.8"/>
<line x1="762.1" y1="718.3" x2="762.1" y2="725.8"/>
<line x1="836.8" y1="718.3" x2="836.8" y2="725.8"/>
<line x1="911.6" y1="718.3" x2="911.6" y2="725.8"/>
</g>
<text transform="translate(104.5,699.1) scale(1,1.04)" font-size="30.6" text-anchor="end">1</text>
<text transform="translate(104.5,605.6) scale(1,1.04)" font-size="30.6" text-anchor="end">2</text>
<text transform="translate(104.5,512.2) scale(1,1.04)" font-size="30.6" text-anchor="end">3</text>
<text transform="translate(104.5,418.7) scale(1,1.04)" font-size="30.6" text-anchor="end">4</text>
<text transform="translate(74.0,557.0) rotate(-90) scale(1,1.04)" font-size="30.6" text-anchor="middle">Z-score</text>
<text transform="translate(180.0,749.1) rotate(-45) scale(1,1.04)" font-size="30.6" text-anchor="end">BA17</text>
<text transform="translate(254.8,749.1) rotate(-45) scale(1,1.04)" font-size="30.6" text-anchor="end">BA20_37</text>
<text transform="translate(329.5,749.1) rotate(-45) scale(1,1.04)" font-size="30.6" text-anchor="end">BA24</text>
<text transform="translate(404.3,749.1) rotate(-45) scale(1,1.04)" font-size="30.6" text-anchor="end">BA3_1_2_5</text>
<text transform="translate(479.0,749.1) rotate(-45) scale(1,1.04)" font-size="30.6" text-anchor="end">BA38</text>
<text transform="translate(553.8,749.1) rotate(-45) scale(1,1.04)" font-size="30.6" text-anchor="end">BA39_40</text>
<text transform="translate(628.6,749.1) rotate(-45) scale(1,1.04)" font-size="30.6" text-anchor="end">BA4_6</text>
<text transform="translate(703.3,749.1) rotate(-45) scale(1,1.04)" font-size="30.6" text-anchor="end">BA41_42_22</text>
<text transform="translate(778.1,749.1) rotate(-45) scale(1,1.04)" font-size="30.6" text-anchor="end">BA44_45</text>
<text transform="translate(852.8,749.1) rotate(-45) scale(1,1.04)" font-size="30.6" text-anchor="end">BA7</text>
<text transform="translate(927.6,749.1) rotate(-45) scale(1,1.04)" font-size="30.6" text-anchor="end">BA9</text>
<text transform="translate(164.0,420.5) scale(1,1.04)" font-size="28.5" text-anchor="middle">****</text>
<text transform="translate(238.8,420.5) scale(1,1.04)" font-size="28.5" text-anchor="middle">****</text>
<text transform="translate(463.0,420.5) scale(1,1.04)" font-size="28.5" text-anchor="middle">****</text>
<text transform="translate(537.8,420.5) scale(1,1.04)" font-size="28.5" text-anchor="middle">****</text>
<text transform="translate(612.6,420.5) scale(1,1.04)" font-size="28.5" text-anchor="middle">****</text>
<g stroke="#EBEBEB" stroke-width="2.8">
<line x1="1378.6" y1="131.8" x2="1844.1" y2="131.8"/>
<line x1="1378.6" y1="188.5" x2="1844.1" y2="188.5"/>
<line x1="1378.6" y1="245.3" x2="1844.1" y2="245.3"/>
<line x1="1378.6" y1="302.0" x2="1844.1" y2="302.0"/>
<line x1="1378.6" y1="358.8" x2="1844.1" y2="358.8"/>
<line x1="1378.6" y1="415.5" x2="1844.1" y2="415.5"/>
<line x1="1378.6" y1="472.2" x2="1844.1" y2="472.2"/>
<line x1="1378.6" y1="529.0" x2="1844.1" y2="529.0"/>
<line x1="1378.6" y1="585.7" x2="1844.1" y2="585.7"/>
<line x1="1378.6" y1="642.5" x2="1844.1" y2="642.5"/>
<line x1="1378.6" y1="699.2" x2="1844.1" y2="699.2"/>
<line x1="1465.9" y1="98.0" x2="1465.9" y2="733.4"/>
<line x1="1611.4" y1="98.0" x2="1611.4" y2="733.4"/>
<line x1="1756.9" y1="98.0" x2="1756.9" y2="733.4"/>
</g>
<circle cx="1465.9" cy="188.5" r="24.7" fill="#171793" fill-opacity="0.9"/>
<circle cx="1611.4" cy="188.5" r="6.7" fill="#A7D6E1" fill-opacity="0.9"/>
<circle cx="1465.9" cy="302.0" r="20.5" fill="#95A3D3" fill-opacity="0.9"/>
<circle cx="1611.4" cy="358.8" r="19.0" fill="#97A5D4" fill-opacity="0.9"/>
<circle cx="1756.9" cy="358.8" r="17.0" fill="#B0DAE5" fill-opacity="0.9"/>
<circle cx="1465.9" cy="472.2" r="12.0" fill="#ACD6E3" fill-opacity="0.9"/>
<circle cx="1465.9" cy="642.5" r="21.0" fill="#95A5D4" fill-opacity="0.9"/>
<circle cx="1611.4" cy="642.5" r="20.6" fill="#95A3D2" fill-opacity="0.9"/>
<circle cx="1756.9" cy="642.5" r="17.7" fill="#B0DAE3" fill-opacity="0.9"/>
<circle cx="1465.9" cy="699.2" r="23.8" fill="#5B52A9" fill-opacity="0.9"/>
<circle cx="1611.4" cy="699.2" r="24.3" fill="#3D319B" fill-opacity="0.9"/>
<rect x="1378.6" y="98.0" width="465.5" height="635.4" fill="none" stroke="#000" stroke-width="3"/>
<text transform="translate(1373.8,143.7) scale(1,1.04)" font-size="30.6" text-anchor="end">BA9</text>
<text transform="translate(1373.8,200.4) scale(1,1.04)" font-size="30.6" text-anchor="end">BA7</text>
<text transform="translate(1373.8,257.2) scale(1,1.04)" font-size="30.6" text-anchor="end">BA44_45</text>
<text transform="translate(1373.8,313.9) scale(1,1.04)" font-size="30.6" text-anchor="end">BA41_42_22</text>
<text transform="translate(1373.8,370.7) scale(1,1.04)" font-size="30.6" text-anchor="end">BA4_6</text>
<text transform="translate(1373.8,427.4) scale(1,1.04)" font-size="30.6" text-anchor="end">BA39_40</text>
<text transform="translate(1373.8,484.1) scale(1,1.04)" font-size="30.6" text-anchor="end">BA38</text>
<text transform="translate(1373.8,540.9) scale(1,1.04)" font-size="30.6" text-anchor="end">BA3_1_2_5</text>
<text transform="translate(1373.8,597.6) scale(1,1.04)" font-size="30.6" text-anchor="end">BA24</text>
<text transform="translate(1373.8,654.4) scale(1,1.04)" font-size="30.6" text-anchor="end">BA20_37</text>
<text transform="translate(1373.8,711.1) scale(1,1.04)" font-size="30.6" text-anchor="end">BA17</text>
<text transform="translate(1481.5,756.5) rotate(-45) scale(1,1.04)" font-size="30.6" text-anchor="end">Adult</text>
<text transform="translate(1628.0,752.2) rotate(-45) scale(1,1.04)" font-size="30.6" text-anchor="end">EarlyDev</text>
<text transform="translate(1775.5,749.5) rotate(-45) scale(1,1.04)" font-size="30.6" text-anchor="end">Stable</text>
<circle cx="1891.3" cy="225.8" r="14.9" fill="#333333"/>
<text transform="translate(1934.5,236.6) scale(1,1.04)" font-size="30.6">3</text>
<circle cx="1891.3" cy="278.8" r="26.9" fill="#333333"/>
<text transform="translate(1934.5,289.6) scale(1,1.04)" font-size="30.6">5</text>
<circle cx="1891.3" cy="353.3" r="33.6" fill="#333333"/>
<text transform="translate(1934.5,364.1) scale(1,1.04)" font-size="30.6">7</text>
<text transform="translate(1970.0,296.5) rotate(90) scale(1,1.04)" font-size="30.6" text-anchor="middle">Odds Ratio</text>
<defs><linearGradient id="gb" x1="0" y1="1" x2="0" y2="0"><stop offset="0" stop-color="#ADD8E6"/><stop offset="0.5" stop-color="#7A7EC4"/><stop offset="1" stop-color="#00008B"/></linearGradient><linearGradient id="gc" x1="0" y1="1" x2="0" y2="0"><stop offset="0.00" stop-color="#00204D"/><stop offset="0.04" stop-color="#0D2753"/><stop offset="0.08" stop-color="#182E59"/><stop offset="0.12" stop-color="#21355F"/><stop offset="0.16" stop-color="#293C65"/><stop offset="0.20" stop-color="#31446B"/><stop offset="0.24" stop-color="#3D4B6C"/><stop offset="0.28" stop-color="#48526D"/><stop offset="0.32" stop-color="#525A6E"/><stop offset="0.36" stop-color="#5C616F"/><stop offset="0.40" stop-color="#666970"/><stop offset="0.44" stop-color="#707072"/><stop offset="0.48" stop-color="#797873"/><stop offset="0.52" stop-color="#828075"/><stop offset="0.56" stop-color="#8C8777"/><stop offset="0.60" stop-color="#958F78"/><stop offset="0.64" stop-color="#A09775"/><stop offset="0.68" stop-color="#ABA073"/><stop offset="0.72" stop-color="#B6A870"/><stop offset="0.76" stop-color="#C0B16D"/><stop offset="0.80" stop-color="#CBBA69"/><stop offset="0.84" stop-color="#D6C364"/><stop offset="0.88" stop-color="#E0CD5E"/><stop offset="0.92" stop-color="#EAD757"/><stop offset="0.96" stop-color="#F5E04F"/><stop offset="1.00" stop-color="#FFEA46"/></linearGradient></defs>
<rect x="1877.2" y="585.89" width="30.8" height="9.90" fill="#ADD8E6"/>
<rect x="1877.2" y="576.39" width="30.8" height="9.90" fill="#A7CCE1"/>
<rect x="1877.2" y="566.88" width="30.8" height="9.90" fill="#A1C1DD"/>
<rect x="1877.2" y="557.38" width="30.8" height="9.90" fill="#9AB5D8"/>
<rect x="1877.2" y="547.88" width="30.8" height="9.90" fill="#94AAD3"/>
<rect x="1877.2" y="538.37" width="30.8" height="9.90" fill="#8E9FCF"/>
<rect x="1877.2" y="528.87" width="30.8" height="9.90" fill="#8793CA"/>
<rect x="1877.2" y="519.36" width="30.8" height="9.90" fill="#8088C5"/>
<rect x="1877.2" y="509.86" width="30.8" height="9.90" fill="#797DC0"/>
<rect x="1877.2" y="500.35" width="30.8" height="9.90" fill="#7272BC"/>
<rect x="1877.2" y="490.84" width="30.8" height="9.90" fill="#6B68B7"/>
<rect x="1877.2" y="481.34" width="30.8" height="9.90" fill="#635DB2"/>
<rect x="1877.2" y="471.83" width="30.8" height="9.90" fill="#5C52AD"/>
<rect x="1877.2" y="462.33" width="30.8" height="9.90" fill="#5348A8"/>
<rect x="1877.2" y="452.82" width="30.8" height="9.90" fill="#4B3DA4"/>
<rect x="1877.2" y="443.32" width="30.8" height="9.90" fill="#41339F"/>
<rect x="1877.2" y="433.81" width="30.8" height="9.90" fill="#37289A"/>
<rect x="1877.2" y="424.31" width="30.8" height="9.90" fill="#2B1C95"/>
<rect x="1877.2" y="414.81" width="30.8" height="9.90" fill="#1C0F90"/>
<rect x="1877.2" y="405.30" width="30.8" height="9.50" fill="#00008B"/>
<line x1="1877.2" y1="562.5" x2="1883" y2="562.5" stroke="#fff" stroke-width="1.2"/>
<line x1="1902.2" y1="562.5" x2="1908" y2="562.5" stroke="#fff" stroke-width="1.2"/>
<text transform="translate(1939.5,570.8) scale(1,1.04)" font-size="30.6" text-anchor="end">5</text>
<line x1="1877.2" y1="521.4" x2="1883" y2="521.4" stroke="#fff" stroke-width="1.2"/>
<line x1="1902.2" y1="521.4" x2="1908" y2="521.4" stroke="#fff" stroke-width="1.2"/>
<text transform="translate(1952.0,530.3) scale(1,1.04)" font-size="30.6" text-anchor="end">10</text>
<line x1="1877.2" y1="482.1" x2="1883" y2="482.1" stroke="#fff" stroke-width="1.2"/>
<line x1="1902.2" y1="482.1" x2="1908" y2="482.1" stroke="#fff" stroke-width="1.2"/>
<text transform="translate(1951.0,490.8) scale(1,1.04)" font-size="30.6" text-anchor="end">15</text>
<line x1="1877.2" y1="441.0" x2="1883" y2="441.0" stroke="#fff" stroke-width="1.2"/>
<line x1="1902.2" y1="441.0" x2="1908" y2="441.0" stroke="#fff" stroke-width="1.2"/>
<text transform="translate(1951.0,450.6) scale(1,1.04)" font-size="30.6" text-anchor="end">20</text>
<text transform="translate(1972.3,499.0) rotate(90) scale(1,1.04)" font-size="30.6" text-anchor="middle">-log<tspan font-size="18" dy="9.5">10</tspan><tspan dy="-9.5">(FDR)</tspan></text>
</svg></body></html>
